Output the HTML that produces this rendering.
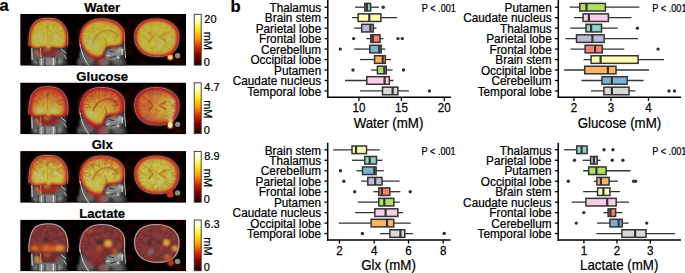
<!DOCTYPE html>
<html><head><meta charset="utf-8"><style>
html,body{margin:0;padding:0;background:#fff;}
svg{display:block;font-family:"Liberation Sans", sans-serif;}
text{stroke:#000;stroke-width:0.22px;}
</style></head><body>
<svg width="685" height="273" viewBox="0 0 685 273">
<defs>
<linearGradient id="hot" x1="0" y1="0" x2="0" y2="1">
<stop offset="0" stop-color="#ffffff"/><stop offset="0.13" stop-color="#ffffb8"/>
<stop offset="0.3" stop-color="#ffe818"/><stop offset="0.48" stop-color="#ff9800"/>
<stop offset="0.64" stop-color="#e02a00"/><stop offset="0.8" stop-color="#880000"/>
<stop offset="1" stop-color="#180000"/></linearGradient>

<clipPath id="strip"><rect x="20.2" y="14" width="165.8" height="51.7"/></clipPath>
<filter id="b04" x="-20%" y="-20%" width="140%" height="140%"><feGaussianBlur stdDeviation="0.4"/></filter>
<filter id="b05" x="-20%" y="-20%" width="140%" height="140%"><feGaussianBlur stdDeviation="0.5"/></filter>
<filter id="b06" x="-20%" y="-20%" width="140%" height="140%"><feGaussianBlur stdDeviation="0.6"/></filter>
<filter id="b08" x="-20%" y="-20%" width="140%" height="140%"><feGaussianBlur stdDeviation="0.8"/></filter>
<filter id="b10" x="-20%" y="-20%" width="140%" height="140%"><feGaussianBlur stdDeviation="1.0"/></filter>
<filter id="b12" x="-30%" y="-30%" width="160%" height="160%"><feGaussianBlur stdDeviation="1.2"/></filter>
<filter id="b15" x="-30%" y="-30%" width="160%" height="160%"><feGaussianBlur stdDeviation="1.5"/></filter>
<filter id="tex1" x="0" y="0" width="100%" height="100%" color-interpolation-filters="sRGB"><feTurbulence type="fractalNoise" baseFrequency="0.22" numOctaves="2" seed="7" result="n"/><feColorMatrix in="n" type="matrix" values="0 0 0 0 0  0 0 0 0 0  0 0 0 0 0  3.2 0 0 0 -1.3" result="a"/><feComposite in="SourceGraphic" in2="a" operator="in" result="c"/><feGaussianBlur in="c" stdDeviation="0.6"/></filter>
<filter id="tex2" x="0" y="0" width="100%" height="100%" color-interpolation-filters="sRGB"><feTurbulence type="fractalNoise" baseFrequency="0.32" numOctaves="2" seed="11" result="n"/><feColorMatrix in="n" type="matrix" values="0 0 0 0 0  0 0 0 0 0  0 0 0 0 0  3.0 0 0 0 -1.1" result="a"/><feComposite in="SourceGraphic" in2="a" operator="in" result="c"/><feGaussianBlur in="c" stdDeviation="0.4"/></filter>
<filter id="texbg" x="0" y="0" width="100%" height="100%" color-interpolation-filters="sRGB"><feTurbulence type="fractalNoise" baseFrequency="0.12" numOctaves="2" seed="3" result="n"/><feColorMatrix in="n" type="matrix" values="0 0 0 0 0  0 0 0 0 0  0 0 0 0 0  2.6 0 0 0 -1.25" result="a"/><feComposite in="SourceGraphic" in2="a" operator="in" result="c"/><feGaussianBlur in="c" stdDeviation="1"/></filter>
<filter id="b25" x="-30%" y="-30%" width="160%" height="160%"><feGaussianBlur stdDeviation="2.5"/></filter>
<radialGradient id="y0cor" cx="0.5" cy="0.6" r="0.64"><stop offset="0" stop-color="#bfba3e" stop-opacity="1"/><stop offset="0.78" stop-color="#bfba3e" stop-opacity="1"/><stop offset="0.94" stop-color="#bfba3e" stop-opacity="0.6"/><stop offset="1" stop-color="#bfba3e" stop-opacity="0.3"/></radialGradient>
<radialGradient id="y0sag" cx="0.45" cy="0.6" r="0.64"><stop offset="0" stop-color="#bfba3e" stop-opacity="1"/><stop offset="0.75" stop-color="#bfba3e" stop-opacity="1"/><stop offset="0.92" stop-color="#bfba3e" stop-opacity="0.6"/><stop offset="1" stop-color="#bfba3e" stop-opacity="0.3"/></radialGradient>
<radialGradient id="y0ax" cx="0.5" cy="0.52" r="0.56"><stop offset="0" stop-color="#bfba3e" stop-opacity="1"/><stop offset="0.8" stop-color="#bfba3e" stop-opacity="1"/><stop offset="1" stop-color="#bfba3e" stop-opacity="0.45"/></radialGradient>
<radialGradient id="y1cor" cx="0.5" cy="0.82" r="0.7"><stop offset="0" stop-color="#c8b43c" stop-opacity="1"/><stop offset="0.4" stop-color="#c8b43c" stop-opacity="0.9"/><stop offset="0.75" stop-color="#c8b43c" stop-opacity="0.3"/><stop offset="1" stop-color="#c8b43c" stop-opacity="0"/></radialGradient>
<radialGradient id="y1sag" cx="0.4" cy="0.72" r="0.7"><stop offset="0" stop-color="#c8b43c" stop-opacity="1"/><stop offset="0.4" stop-color="#c8b43c" stop-opacity="0.9"/><stop offset="0.75" stop-color="#c8b43c" stop-opacity="0.3"/><stop offset="1" stop-color="#c8b43c" stop-opacity="0"/></radialGradient>
<radialGradient id="y1ax" cx="0.85" cy="0.55" r="0.65"><stop offset="0" stop-color="#c8b43c" stop-opacity="1"/><stop offset="0.35" stop-color="#c8b43c" stop-opacity="0.9"/><stop offset="0.7" stop-color="#c8b43c" stop-opacity="0.35"/><stop offset="1" stop-color="#c8b43c" stop-opacity="0.1"/></radialGradient>
<linearGradient id="t10cor" x1="0" y1="0" x2="0" y2="1"><stop offset="0" stop-color="#a02010" stop-opacity="1"/><stop offset="0.5" stop-color="#a02010" stop-opacity="0.8"/><stop offset="0.8" stop-color="#a02010" stop-opacity="0.1"/><stop offset="1" stop-color="#a02010" stop-opacity="0"/></linearGradient>
<linearGradient id="t10sag" x1="0" y1="0" x2="0" y2="1"><stop offset="0" stop-color="#a02010" stop-opacity="1"/><stop offset="0.5" stop-color="#a02010" stop-opacity="0.7"/><stop offset="0.8" stop-color="#a02010" stop-opacity="0.1"/><stop offset="1" stop-color="#a02010" stop-opacity="0"/></linearGradient>
<linearGradient id="t10ax" x1="0" y1="0" x2="1" y2="0"><stop offset="0" stop-color="#a02010" stop-opacity="1"/><stop offset="0.6" stop-color="#a02010" stop-opacity="0.7"/><stop offset="1" stop-color="#a02010" stop-opacity="0.1"/></linearGradient>
<radialGradient id="y2cor" cx="0.5" cy="0.7" r="0.7"><stop offset="0" stop-color="#c6c24a" stop-opacity="1"/><stop offset="0.6" stop-color="#c6c24a" stop-opacity="1"/><stop offset="0.85" stop-color="#c6c24a" stop-opacity="0.45"/><stop offset="1" stop-color="#c6c24a" stop-opacity="0.1"/></radialGradient>
<radialGradient id="y2sag" cx="0.5" cy="0.62" r="0.7"><stop offset="0" stop-color="#c6c24a" stop-opacity="1"/><stop offset="0.6" stop-color="#c6c24a" stop-opacity="1"/><stop offset="0.85" stop-color="#c6c24a" stop-opacity="0.45"/><stop offset="1" stop-color="#c6c24a" stop-opacity="0.1"/></radialGradient>
<radialGradient id="y2ax" cx="0.5" cy="0.5" r="0.62"><stop offset="0" stop-color="#c6c24a" stop-opacity="1"/><stop offset="0.75" stop-color="#c6c24a" stop-opacity="1"/><stop offset="0.92" stop-color="#c6c24a" stop-opacity="0.45"/><stop offset="1" stop-color="#c6c24a" stop-opacity="0.1"/></radialGradient>
<linearGradient id="t20cor" x1="0" y1="0" x2="0" y2="1"><stop offset="0" stop-color="#b03818" stop-opacity="1"/><stop offset="0.5" stop-color="#b03818" stop-opacity="0.6"/><stop offset="1" stop-color="#b03818" stop-opacity="0.2"/></linearGradient>
<linearGradient id="t20sag" x1="0" y1="0" x2="0" y2="1"><stop offset="0" stop-color="#b03818" stop-opacity="1"/><stop offset="0.5" stop-color="#b03818" stop-opacity="0.6"/><stop offset="1" stop-color="#b03818" stop-opacity="0.2"/></linearGradient>
<linearGradient id="t20ax" x1="0" y1="0" x2="0" y2="1"><stop offset="0" stop-color="#b03818" stop-opacity="0.5"/><stop offset="1" stop-color="#b03818" stop-opacity="0.5"/></linearGradient>
<linearGradient id="y3cor" x1="0" y1="0" x2="0" y2="1"><stop offset="0" stop-color="#e0a030" stop-opacity="0"/><stop offset="1" stop-color="#e0a030" stop-opacity="0"/></linearGradient>
<linearGradient id="y3sag" x1="0" y1="0" x2="0" y2="1"><stop offset="0" stop-color="#e0a030" stop-opacity="0"/><stop offset="1" stop-color="#e0a030" stop-opacity="0"/></linearGradient>
<linearGradient id="y3ax" x1="0" y1="0" x2="0" y2="1"><stop offset="0" stop-color="#e0a030" stop-opacity="0"/><stop offset="1" stop-color="#e0a030" stop-opacity="0"/></linearGradient></defs>
<rect width="685" height="273" fill="#fff"/>
<g transform="translate(0,0.0)" clip-path="url(#strip)">
<rect x="20.2" y="14.0" width="165.8" height="51.7" fill="#000"/>
<g filter="url(#texbg)" opacity="0.45"><rect x="20.2" y="14.0" width="165.8" height="51.7" fill="#5a0c08"/></g>
<g filter="url(#b25)" opacity="0.9">
<path d="M29.6,42 C29.8,33 31.5,26 36.5,21.8 C40,19.5 44,19 48.5,19 C54,19 58.5,20.5 61.5,23.5 C65,27 67,32.5 67,40 C67,44 66,47 63.5,47.8 C58,48.5 53,46.5 50.5,47 L49.8,49.5 L47,49.5 L46.3,47 C44,46.5 39,48.3 34,48 C30.5,47.5 29.6,45 29.6,42 Z" fill="#7a1810" transform="translate(48.6,34) scale(1.045) translate(-48.6,-34)"/>
<path d="M80.4,38 C80.4,27 88.5,19.7 101,19.6 C113,19.6 123.5,25 123.8,34 C124,40 123,44 120.5,45 C116,45.5 110,45.5 106.5,46.3 C104.5,49 103.5,53 101.5,56 C99,58.5 94,57.5 90,55 C85,52 81,47 80.4,38 Z" fill="#7a1810" transform="translate(102,37) scale(1.045) translate(-102,-37)"/>
<path d="M135.4,36.5 C135.4,26 143,19.7 156,19.6 C169,19.5 178.2,26 178.2,36.5 C178.2,44 175.5,50 171,53 C166,56 158,56.3 151,55.3 C142,54 135.4,47 135.4,36.5 Z" fill="#7a1810" transform="translate(156.7,37.5) scale(1.045) translate(-156.7,-37.5)"/>
</g>
<g filter="url(#b08)">
<path d="M29.6,42 C29.8,33 31.5,26 36.5,21.8 C40,19.5 44,19 48.5,19 C54,19 58.5,20.5 61.5,23.5 C65,27 67,32.5 67,40 C67,44 66,47 63.5,47.8 C58,48.5 53,46.5 50.5,47 L49.8,49.5 L47,49.5 L46.3,47 C44,46.5 39,48.3 34,48 C30.5,47.5 29.6,45 29.6,42 Z" fill="#303030" transform="translate(48.6,34) scale(1.04) translate(-48.6,-34)"/>
<path d="M80.4,38 C80.4,27 88.5,19.7 101,19.6 C113,19.6 123.5,25 123.8,34 C124,40 123,44 120.5,45 C116,45.5 110,45.5 106.5,46.3 C104.5,49 103.5,53 101.5,56 C99,58.5 94,57.5 90,55 C85,52 81,47 80.4,38 Z" fill="#303030" transform="translate(102,37) scale(1.04) translate(-102,-37)"/>
<path d="M135.4,36.5 C135.4,26 143,19.7 156,19.6 C169,19.5 178.2,26 178.2,36.5 C178.2,44 175.5,50 171,53 C166,56 158,56.3 151,55.3 C142,54 135.4,47 135.4,36.5 Z" fill="#303030" transform="translate(156.7,37.5) scale(1.04) translate(-156.7,-37.5)"/>
<path d="M31.5,47 C40,46 57,46 66.5,47 L67,66 L31,66 Z" fill="#343434"/>
<path d="M81,46 C84,52 92,56 100,56.5 L104,47 C110,46 118,46 124,44 L125.5,58 L127,66 L83,66 C81,60 80,52 81,46 Z" fill="#343434"/>
</g>
<g filter="url(#b10)">
<ellipse cx="48" cy="61.5" rx="15" ry="4.5" fill="#858585"/>
<ellipse cx="36" cy="56" rx="4" ry="6" fill="#606060"/>
<ellipse cx="60" cy="55" rx="5" ry="5" fill="#646464"/>
<ellipse cx="113" cy="54.5" rx="8" ry="6" fill="#858585"/>
<ellipse cx="120" cy="50" rx="3" ry="3" fill="#a8a8a8"/>
<ellipse cx="104" cy="62" rx="5" ry="4" fill="#727272"/>
<ellipse cx="118" cy="62" rx="5" ry="3" fill="#606060"/>
<ellipse cx="88" cy="60" rx="6" ry="5" fill="#686868"/>
<ellipse cx="83" cy="55" rx="3.5" ry="5" fill="#606060"/>
<ellipse cx="80" cy="62" rx="3" ry="4" fill="#555555"/>
</g>
<g filter="url(#b06)" fill="none">
<path d="M38,58 L38,66" stroke="#2a2a2a" stroke-width="1.0"/>
<path d="M45,58.5 L45,66" stroke="#2a2a2a" stroke-width="1.0"/>
<path d="M57,58 L57,66" stroke="#2a2a2a" stroke-width="1.0"/>
<path d="M110,58 L116,56" stroke="#303030" stroke-width="1.0"/>
<path d="M109,51 L114,52" stroke="#303030" stroke-width="1.0"/>
</g>
<g filter="url(#b06)" fill="none" opacity="0.85">
<path d="M40.5,48 L41,57" stroke="#e0e0e0" stroke-width="1.2"/>
<path d="M41.3,58 L41.3,66" stroke="#e0e0e0" stroke-width="1.1"/>
<path d="M53.4,58 L53.4,66" stroke="#e0e0e0" stroke-width="1.3"/>
<path d="M31.8,48 L32.2,60" stroke="#e0e0e0" stroke-width="1.3"/>
<path d="M61,49 L66,53" stroke="#e0e0e0" stroke-width="1.0"/>
<path d="M64,55 L66.5,59" stroke="#e0e0e0" stroke-width="0.9"/>
<path d="M80.3,44 C81,52 84,59 89,66" stroke="#e0e0e0" stroke-width="1.0"/>
<path d="M122.5,49 L122,55" stroke="#e0e0e0" stroke-width="1.6"/>
<path d="M117.5,56.5 L119,58.5" stroke="#e0e0e0" stroke-width="1.5"/>
<path d="M124.5,44 L125.5,58" stroke="#e0e0e0" stroke-width="0.9"/>
<path d="M106,56 L110,55" stroke="#e0e0e0" stroke-width="1.0"/>
</g>
<g filter="url(#b08)">
<path d="M29.6,42 C29.8,33 31.5,26 36.5,21.8 C40,19.5 44,19 48.5,19 C54,19 58.5,20.5 61.5,23.5 C65,27 67,32.5 67,40 C67,44 66,47 63.5,47.8 C58,48.5 53,46.5 50.5,47 L49.8,49.5 L47,49.5 L46.3,47 C44,46.5 39,48.3 34,48 C30.5,47.5 29.6,45 29.6,42 Z" fill="#5a5a5a" transform="translate(48.6,34) scale(0.97) translate(-48.6,-34)"/>
<path d="M80.4,38 C80.4,27 88.5,19.7 101,19.6 C113,19.6 123.5,25 123.8,34 C124,40 123,44 120.5,45 C116,45.5 110,45.5 106.5,46.3 C104.5,49 103.5,53 101.5,56 C99,58.5 94,57.5 90,55 C85,52 81,47 80.4,38 Z" fill="#5a5a5a" transform="translate(102,37) scale(0.97) translate(-102,-37)"/>
<path d="M135.4,36.5 C135.4,26 143,19.7 156,19.6 C169,19.5 178.2,26 178.2,36.5 C178.2,44 175.5,50 171,53 C166,56 158,56.3 151,55.3 C142,54 135.4,47 135.4,36.5 Z" fill="#5a5a5a" transform="translate(156.7,37.5) scale(0.97) translate(-156.7,-37.5)"/>
</g>
<g filter="url(#b05)" fill="none" stroke="#909090" stroke-width="0.9">
</g>
<g filter="url(#b05)"><circle cx="177.6" cy="55.8" r="2.7" fill="#8a8a8a"/></g>
<g filter="url(#b04)" fill="none">
<path d="M28.9,46 C28.9,33 30.7,25.5 35.9,21.1 C39.5,18.7 43.7,18.2 48.5,18.2 C54.3,18.2 59,19.7 62.2,22.9 C65.9,26.6 67.9,32.3 67.9,40 C67.9,43 67.6,45 67.3,46.5" stroke="#c89090" stroke-width="0.8"/>
<path d="M79.7,46 C79.4,27 87.8,19 101,18.9 C114,18.9 124.5,24.5 124.6,36 C124.7,40 124.5,44 124.2,46" stroke="#c89090" stroke-width="0.8"/>
<path d="M135.4,36.5 C135.4,26 143,19.7 156,19.6 C169,19.5 178.2,26 178.2,36.5 C178.2,44 175.5,50 171,53 C166,56 158,56.3 151,55.3 C142,54 135.4,47 135.4,36.5 Z" transform="translate(156.7,37.5) scale(1.035) translate(-156.7,-37.5)" stroke="#c89090" stroke-width="0.7"/>
</g>
<g filter="url(#b12)" opacity="0.6">
<ellipse cx="47.5" cy="52" rx="13" ry="4.5" fill="#cc2a20" opacity="0.85"/>
<path d="M35.5,50 L40,57" stroke="#e88030" stroke-width="1.8"/>
<ellipse cx="47" cy="49" rx="3" ry="2.2" fill="#e88030"/>
<ellipse cx="114" cy="47" rx="2.8" ry="2.5" fill="#e88030"/>
<ellipse cx="110" cy="46" rx="7" ry="2.2" fill="#cc2a20"/>
<path d="M97,52 L105.5,46.5 L105,66 L95.5,66 Z" fill="#cc2a20" opacity="0.6"/>
<ellipse cx="93" cy="57" rx="6" ry="3.5" fill="#cc2a20" opacity="0.7"/>
</g>
<g filter="url(#b06)" opacity="1">
<path d="M29.6,42 C29.8,33 31.5,26 36.5,21.8 C40,19.5 44,19 48.5,19 C54,19 58.5,20.5 61.5,23.5 C65,27 67,32.5 67,40 C67,44 66,47 63.5,47.8 C58,48.5 53,46.5 50.5,47 L49.8,49.5 L47,49.5 L46.3,47 C44,46.5 39,48.3 34,48 C30.5,47.5 29.6,45 29.6,42 Z" fill="#cc2a20" transform="translate(48.6,34) scale(1.015) translate(-48.6,-34)"/>
<path d="M80.4,38 C80.4,27 88.5,19.7 101,19.6 C113,19.6 123.5,25 123.8,34 C124,40 123,44 120.5,45 C116,45.5 110,45.5 106.5,46.3 C104.5,49 103.5,53 101.5,56 C99,58.5 94,57.5 90,55 C85,52 81,47 80.4,38 Z" fill="#cc2a20" transform="translate(102,37) scale(1.015) translate(-102,-37)"/>
<path d="M135.4,36.5 C135.4,26 143,19.7 156,19.6 C169,19.5 178.2,26 178.2,36.5 C178.2,44 175.5,50 171,53 C166,56 158,56.3 151,55.3 C142,54 135.4,47 135.4,36.5 Z" fill="#cc2a20" transform="translate(156.7,37.5) scale(1.015) translate(-156.7,-37.5)"/>
<circle cx="170.2" cy="57.2" r="3.4" fill="#cc2a20"/>
<path d="M167,51 L173,51 L172.5,56 L167.8,56 Z" fill="#cc2a20"/>
</g>
<g filter="url(#b08)" opacity="1">
<path d="M29.6,42 C29.8,33 31.5,26 36.5,21.8 C40,19.5 44,19 48.5,19 C54,19 58.5,20.5 61.5,23.5 C65,27 67,32.5 67,40 C67,44 66,47 63.5,47.8 C58,48.5 53,46.5 50.5,47 L49.8,49.5 L47,49.5 L46.3,47 C44,46.5 39,48.3 34,48 C30.5,47.5 29.6,45 29.6,42 Z" fill="#d08a30" transform="translate(48.6,34) scale(0.88) translate(-48.6,-34)"/>
<path d="M80.4,38 C80.4,27 88.5,19.7 101,19.6 C113,19.6 123.5,25 123.8,34 C124,40 123,44 120.5,45 C116,45.5 110,45.5 106.5,46.3 C104.5,49 103.5,53 101.5,56 C99,58.5 94,57.5 90,55 C85,52 81,47 80.4,38 Z" fill="#d08a30" transform="translate(102,37) scale(0.88) translate(-102,-37)"/>
<path d="M135.4,36.5 C135.4,26 143,19.7 156,19.6 C169,19.5 178.2,26 178.2,36.5 C178.2,44 175.5,50 171,53 C166,56 158,56.3 151,55.3 C142,54 135.4,47 135.4,36.5 Z" fill="#d08a30" transform="translate(156.7,37.5) scale(0.88) translate(-156.7,-37.5)"/>
</g>
<g filter="url(#b12)">
<path d="M29.6,42 C29.8,33 31.5,26 36.5,21.8 C40,19.5 44,19 48.5,19 C54,19 58.5,20.5 61.5,23.5 C65,27 67,32.5 67,40 C67,44 66,47 63.5,47.8 C58,48.5 53,46.5 50.5,47 L49.8,49.5 L47,49.5 L46.3,47 C44,46.5 39,48.3 34,48 C30.5,47.5 29.6,45 29.6,42 Z" fill="url(#y0cor)" transform="translate(48.6,34) scale(0.9) translate(-48.6,-34)"/>
<path d="M80.4,38 C80.4,27 88.5,19.7 101,19.6 C113,19.6 123.5,25 123.8,34 C124,40 123,44 120.5,45 C116,45.5 110,45.5 106.5,46.3 C104.5,49 103.5,53 101.5,56 C99,58.5 94,57.5 90,55 C85,52 81,47 80.4,38 Z" fill="url(#y0sag)" transform="translate(102,37) scale(0.9) translate(-102,-37)"/>
<path d="M135.4,36.5 C135.4,26 143,19.7 156,19.6 C169,19.5 178.2,26 178.2,36.5 C178.2,44 175.5,50 171,53 C166,56 158,56.3 151,55.3 C142,54 135.4,47 135.4,36.5 Z" fill="url(#y0ax)" transform="translate(156.7,37.5) scale(0.9) translate(-156.7,-37.5)"/>
</g>
<ellipse cx="170.2" cy="57.2" rx="2.3" ry="2.3" fill="#e8e080" opacity="1" filter="url(#b06)"/>
<g filter="url(#tex1)" opacity="0.3">
<path d="M29.6,42 C29.8,33 31.5,26 36.5,21.8 C40,19.5 44,19 48.5,19 C54,19 58.5,20.5 61.5,23.5 C65,27 67,32.5 67,40 C67,44 66,47 63.5,47.8 C58,48.5 53,46.5 50.5,47 L49.8,49.5 L47,49.5 L46.3,47 C44,46.5 39,48.3 34,48 C30.5,47.5 29.6,45 29.6,42 Z" fill="#c87828" transform="translate(48.6,34) scale(0.93) translate(-48.6,-34)"/>
<path d="M80.4,38 C80.4,27 88.5,19.7 101,19.6 C113,19.6 123.5,25 123.8,34 C124,40 123,44 120.5,45 C116,45.5 110,45.5 106.5,46.3 C104.5,49 103.5,53 101.5,56 C99,58.5 94,57.5 90,55 C85,52 81,47 80.4,38 Z" fill="#c87828" transform="translate(102,37) scale(0.93) translate(-102,-37)"/>
<path d="M135.4,36.5 C135.4,26 143,19.7 156,19.6 C169,19.5 178.2,26 178.2,36.5 C178.2,44 175.5,50 171,53 C166,56 158,56.3 151,55.3 C142,54 135.4,47 135.4,36.5 Z" fill="#c87828" transform="translate(156.7,37.5) scale(0.93) translate(-156.7,-37.5)"/>
</g>
<g filter="url(#b06)" fill="none" stroke="#c06a20" stroke-width="0.9" opacity="0.3">
<path d="M38.8,35.0 Q35.8,32.7 32.4,34.4"/>
<path d="M38.8,33.0 Q36.4,32.3 34.1,31.5"/>
<path d="M40.4,31.3 Q36.5,31.2 34.5,28.0"/>
<path d="M42.0,31.0 Q39.3,28.5 36.1,26.6"/>
<path d="M42.8,30.2 Q41.7,26.3 37.8,25.3"/>
<path d="M44.9,29.0 Q41.4,26.5 41.4,22.2"/>
<path d="M46.3,28.6 Q47.0,24.9 44.4,22.2"/>
<path d="M47.4,28.1 Q48.8,24.0 46.3,20.5"/>
<path d="M49.3,26.2 Q50.2,23.6 49.7,21.0"/>
<path d="M51.2,26.6 Q53.7,24.4 52.7,21.2"/>
<path d="M53.1,29.0 Q53.6,25.3 56.8,23.3"/>
<path d="M53.4,29.9 Q56.1,27.4 58.0,24.2"/>
<path d="M55.7,29.8 Q57.4,27.3 60.1,25.9"/>
<path d="M56.9,32.3 Q59.8,31.0 62.8,29.7"/>
<path d="M56.4,34.1 Q59.8,30.3 64.6,32.0"/>
<path d="M58.7,35.5 Q61.3,36.4 63.8,35.2"/>
<path d="M90.7,38.2 Q87.3,40.4 83.7,38.3"/>
<path d="M89.7,36.6 Q86.7,35.1 83.6,35.8"/>
<path d="M90.6,33.8 Q87.4,33.4 84.7,31.7"/>
<path d="M91.7,32.9 Q89.4,30.5 86.0,30.1"/>
<path d="M93.0,31.0 Q91.8,27.8 88.4,27.5"/>
<path d="M94.8,31.4 Q93.5,26.9 88.9,25.9"/>
<path d="M95.6,28.9 Q93.2,26.9 92.1,23.9"/>
<path d="M98.4,30.0 Q95.2,27.4 95.3,23.3"/>
<path d="M100.1,27.3 Q98.1,25.1 99.2,22.3"/>
<path d="M102.7,28.5 Q101.7,25.0 103.1,21.8"/>
<path d="M104.2,27.8 Q104.6,24.8 105.5,22.0"/>
<path d="M105.6,27.9 Q106.4,25.4 107.3,23.0"/>
<path d="M107.3,30.9 Q112.1,29.0 112.4,23.9"/>
<path d="M109.8,30.3 Q111.8,28.0 114.1,26.0"/>
<path d="M110.9,31.0 Q113.3,28.9 115.8,27.1"/>
<path d="M112.9,33.4 Q116.2,31.6 119.8,30.4"/>
<path d="M113.0,34.5 Q116.2,32.5 119.9,32.4"/>
<path d="M111.7,36.4 Q116.6,38.7 120.6,35.0"/>
<path d="M171.7,38.4 Q173.7,37.9 175.8,38.6"/>
<path d="M170.4,39.3 Q173.0,41.5 176.1,40.0"/>
<path d="M170.9,42.7 Q172.5,44.0 174.6,44.0"/>
<path d="M168.7,45.5 Q169.8,46.9 171.4,47.3"/>
<path d="M166.5,46.5 Q167.6,48.6 169.9,49.6"/>
<path d="M164.6,49.1 Q165.3,50.4 166.3,51.5"/>
<path d="M161.7,49.1 Q161.9,50.8 163.0,52.2"/>
<path d="M157.6,50.5 Q156.9,52.1 157.9,53.6"/>
<path d="M154.6,49.9 Q153.2,51.6 154.0,53.6"/>
<path d="M151.2,49.7 Q150.0,51.1 149.8,52.9"/>
<path d="M146.8,48.0 Q145.8,49.0 144.8,50.0"/>
<path d="M145.9,46.9 Q144.5,48.3 143.0,49.5"/>
<path d="M143.4,43.7 Q142.1,45.7 139.7,45.5"/>
<path d="M142.4,40.9 Q140.3,41.8 138.1,42.0"/>
<path d="M141.3,38.7 Q139.3,38.0 137.4,38.9"/>
<path d="M143.2,37.1 Q140.5,36.3 137.7,36.9"/>
<path d="M142.1,34.0 Q139.7,35.1 138.1,33.0"/>
<path d="M144.9,31.6 Q142.3,32.0 140.9,29.7"/>
<path d="M146.6,29.9 Q143.6,30.1 142.9,27.2"/>
<path d="M148.7,27.7 Q147.5,25.7 145.8,24.2"/>
<path d="M150.2,25.4 Q149.6,24.6 149.3,23.6"/>
<path d="M153.9,25.8 Q154.5,23.9 153.1,22.4"/>
<path d="M157.2,26.6 Q155.4,23.9 157.4,21.4"/>
<path d="M160.6,26.2 Q163.0,24.7 162.0,22.1"/>
<path d="M164.0,27.2 Q165.9,25.7 166.7,23.4"/>
<path d="M165.2,28.8 Q167.3,27.1 168.9,25.1"/>
<path d="M170.1,30.2 Q171.3,29.1 172.8,28.7"/>
<path d="M168.8,33.5 Q171.4,33.0 173.9,31.9"/>
<path d="M169.9,35.3 Q173.1,36.8 175.6,34.3"/>
<path d="M171.1,37.3 Q173.2,36.4 175.3,37.2"/>
</g>
<g filter="url(#b06)" fill="none" stroke="#c07a30" opacity="0.6">
<path d="M48,22 L47.6,42" stroke-width="0.8"/>
<path d="M93,43 C95,34 103,29.5 110,30.5 C115,31.5 117,34 117.5,37.5" stroke-width="2.2"/>
<path d="M104,38 C106,40 107,44 106,46" stroke-width="1.2"/>
<path d="M148,31.5 L152.8,37 L148.2,42.5" stroke-width="2.4"/>
<path d="M166,33 L159.5,37 L166,41" stroke-width="2.2"/>
</g>
<g filter="url(#b15)" opacity="0.8" fill="#b8b88a">
<circle cx="39.5" cy="38" r="3.5"/>
<circle cx="56.5" cy="37.5" r="3"/>
<circle cx="89.5" cy="42" r="3"/>
<circle cx="96" cy="47" r="2.5"/>
<circle cx="171" cy="40" r="2.5"/>
<circle cx="159.5" cy="44.5" r="2.5"/>
</g>
</g>
<g transform="translate(0,68.55)" clip-path="url(#strip)">
<rect x="20.2" y="14.0" width="165.8" height="51.7" fill="#000"/>
<g filter="url(#texbg)" opacity="0.45"><rect x="20.2" y="14.0" width="165.8" height="51.7" fill="#5a0c08"/></g>
<g filter="url(#b25)" opacity="0.9">
<path d="M29.6,42 C29.8,33 31.5,26 36.5,21.8 C40,19.5 44,19 48.5,19 C54,19 58.5,20.5 61.5,23.5 C65,27 67,32.5 67,40 C67,44 66,47 63.5,47.8 C58,48.5 53,46.5 50.5,47 L49.8,49.5 L47,49.5 L46.3,47 C44,46.5 39,48.3 34,48 C30.5,47.5 29.6,45 29.6,42 Z" fill="#801818" transform="translate(48.6,34) scale(1.05) translate(-48.6,-34)"/>
<path d="M80.4,38 C80.4,27 88.5,19.7 101,19.6 C113,19.6 123.5,25 123.8,34 C124,40 123,44 120.5,45 C116,45.5 110,45.5 106.5,46.3 C104.5,49 103.5,53 101.5,56 C99,58.5 94,57.5 90,55 C85,52 81,47 80.4,38 Z" fill="#801818" transform="translate(102,37) scale(1.05) translate(-102,-37)"/>
<path d="M135.4,36.5 C135.4,26 143,19.7 156,19.6 C169,19.5 178.2,26 178.2,36.5 C178.2,44 175.5,50 171,53 C166,56 158,56.3 151,55.3 C142,54 135.4,47 135.4,36.5 Z" fill="#801818" transform="translate(156.7,37.5) scale(1.05) translate(-156.7,-37.5)"/>
</g>
<g filter="url(#b08)">
<path d="M29.6,42 C29.8,33 31.5,26 36.5,21.8 C40,19.5 44,19 48.5,19 C54,19 58.5,20.5 61.5,23.5 C65,27 67,32.5 67,40 C67,44 66,47 63.5,47.8 C58,48.5 53,46.5 50.5,47 L49.8,49.5 L47,49.5 L46.3,47 C44,46.5 39,48.3 34,48 C30.5,47.5 29.6,45 29.6,42 Z" fill="#303030" transform="translate(48.6,34) scale(1.04) translate(-48.6,-34)"/>
<path d="M80.4,38 C80.4,27 88.5,19.7 101,19.6 C113,19.6 123.5,25 123.8,34 C124,40 123,44 120.5,45 C116,45.5 110,45.5 106.5,46.3 C104.5,49 103.5,53 101.5,56 C99,58.5 94,57.5 90,55 C85,52 81,47 80.4,38 Z" fill="#303030" transform="translate(102,37) scale(1.04) translate(-102,-37)"/>
<path d="M135.4,36.5 C135.4,26 143,19.7 156,19.6 C169,19.5 178.2,26 178.2,36.5 C178.2,44 175.5,50 171,53 C166,56 158,56.3 151,55.3 C142,54 135.4,47 135.4,36.5 Z" fill="#303030" transform="translate(156.7,37.5) scale(1.04) translate(-156.7,-37.5)"/>
<path d="M31.5,47 C40,46 57,46 66.5,47 L67,66 L31,66 Z" fill="#343434"/>
<path d="M81,46 C84,52 92,56 100,56.5 L104,47 C110,46 118,46 124,44 L125.5,58 L127,66 L83,66 C81,60 80,52 81,46 Z" fill="#343434"/>
</g>
<g filter="url(#b10)">
<ellipse cx="48" cy="61.5" rx="15" ry="4.5" fill="#858585"/>
<ellipse cx="36" cy="56" rx="4" ry="6" fill="#606060"/>
<ellipse cx="60" cy="55" rx="5" ry="5" fill="#646464"/>
<ellipse cx="113" cy="54.5" rx="8" ry="6" fill="#858585"/>
<ellipse cx="120" cy="50" rx="3" ry="3" fill="#a8a8a8"/>
<ellipse cx="104" cy="62" rx="5" ry="4" fill="#727272"/>
<ellipse cx="118" cy="62" rx="5" ry="3" fill="#606060"/>
<ellipse cx="88" cy="60" rx="6" ry="5" fill="#686868"/>
<ellipse cx="83" cy="55" rx="3.5" ry="5" fill="#606060"/>
<ellipse cx="80" cy="62" rx="3" ry="4" fill="#555555"/>
</g>
<g filter="url(#b06)" fill="none">
<path d="M38,58 L38,66" stroke="#2a2a2a" stroke-width="1.0"/>
<path d="M45,58.5 L45,66" stroke="#2a2a2a" stroke-width="1.0"/>
<path d="M57,58 L57,66" stroke="#2a2a2a" stroke-width="1.0"/>
<path d="M110,58 L116,56" stroke="#303030" stroke-width="1.0"/>
<path d="M109,51 L114,52" stroke="#303030" stroke-width="1.0"/>
</g>
<g filter="url(#b06)" fill="none" opacity="0.85">
<path d="M40.5,48 L41,57" stroke="#e0e0e0" stroke-width="1.2"/>
<path d="M41.3,58 L41.3,66" stroke="#e0e0e0" stroke-width="1.1"/>
<path d="M53.4,58 L53.4,66" stroke="#e0e0e0" stroke-width="1.3"/>
<path d="M31.8,48 L32.2,60" stroke="#e0e0e0" stroke-width="1.3"/>
<path d="M61,49 L66,53" stroke="#e0e0e0" stroke-width="1.0"/>
<path d="M64,55 L66.5,59" stroke="#e0e0e0" stroke-width="0.9"/>
<path d="M80.3,44 C81,52 84,59 89,66" stroke="#e0e0e0" stroke-width="1.0"/>
<path d="M122.5,49 L122,55" stroke="#e0e0e0" stroke-width="1.6"/>
<path d="M117.5,56.5 L119,58.5" stroke="#e0e0e0" stroke-width="1.5"/>
<path d="M124.5,44 L125.5,58" stroke="#e0e0e0" stroke-width="0.9"/>
<path d="M106,56 L110,55" stroke="#e0e0e0" stroke-width="1.0"/>
</g>
<g filter="url(#b08)">
<path d="M29.6,42 C29.8,33 31.5,26 36.5,21.8 C40,19.5 44,19 48.5,19 C54,19 58.5,20.5 61.5,23.5 C65,27 67,32.5 67,40 C67,44 66,47 63.5,47.8 C58,48.5 53,46.5 50.5,47 L49.8,49.5 L47,49.5 L46.3,47 C44,46.5 39,48.3 34,48 C30.5,47.5 29.6,45 29.6,42 Z" fill="#5a5a5a" transform="translate(48.6,34) scale(0.97) translate(-48.6,-34)"/>
<path d="M80.4,38 C80.4,27 88.5,19.7 101,19.6 C113,19.6 123.5,25 123.8,34 C124,40 123,44 120.5,45 C116,45.5 110,45.5 106.5,46.3 C104.5,49 103.5,53 101.5,56 C99,58.5 94,57.5 90,55 C85,52 81,47 80.4,38 Z" fill="#5a5a5a" transform="translate(102,37) scale(0.97) translate(-102,-37)"/>
<path d="M135.4,36.5 C135.4,26 143,19.7 156,19.6 C169,19.5 178.2,26 178.2,36.5 C178.2,44 175.5,50 171,53 C166,56 158,56.3 151,55.3 C142,54 135.4,47 135.4,36.5 Z" fill="#5a5a5a" transform="translate(156.7,37.5) scale(0.97) translate(-156.7,-37.5)"/>
</g>
<g filter="url(#b05)" fill="none" stroke="#909090" stroke-width="0.9">
</g>
<g filter="url(#b05)"><circle cx="177.6" cy="55.8" r="2.7" fill="#8a8a8a"/></g>
<g filter="url(#b04)" fill="none">
<path d="M28.9,46 C28.9,33 30.7,25.5 35.9,21.1 C39.5,18.7 43.7,18.2 48.5,18.2 C54.3,18.2 59,19.7 62.2,22.9 C65.9,26.6 67.9,32.3 67.9,40 C67.9,43 67.6,45 67.3,46.5" stroke="#c89090" stroke-width="0.8"/>
<path d="M79.7,46 C79.4,27 87.8,19 101,18.9 C114,18.9 124.5,24.5 124.6,36 C124.7,40 124.5,44 124.2,46" stroke="#c89090" stroke-width="0.8"/>
<path d="M135.4,36.5 C135.4,26 143,19.7 156,19.6 C169,19.5 178.2,26 178.2,36.5 C178.2,44 175.5,50 171,53 C166,56 158,56.3 151,55.3 C142,54 135.4,47 135.4,36.5 Z" transform="translate(156.7,37.5) scale(1.035) translate(-156.7,-37.5)" stroke="#c89090" stroke-width="0.7"/>
</g>
<g filter="url(#b12)" opacity="0.8">
<ellipse cx="47.5" cy="52" rx="13" ry="4.5" fill="#b82028" opacity="0.85"/>
<path d="M35.5,50 L40,57" stroke="#e88030" stroke-width="1.8"/>
<ellipse cx="47" cy="49" rx="3" ry="2.2" fill="#e88030"/>
<ellipse cx="114" cy="47" rx="2.8" ry="2.5" fill="#e88030"/>
<ellipse cx="110" cy="46" rx="7" ry="2.2" fill="#b82028"/>
<path d="M97,52 L105.5,46.5 L105,66 L95.5,66 Z" fill="#b82028" opacity="0.6"/>
<ellipse cx="93" cy="57" rx="6" ry="3.5" fill="#b82028" opacity="0.7"/>
</g>
<g filter="url(#b06)" opacity="1">
<path d="M29.6,42 C29.8,33 31.5,26 36.5,21.8 C40,19.5 44,19 48.5,19 C54,19 58.5,20.5 61.5,23.5 C65,27 67,32.5 67,40 C67,44 66,47 63.5,47.8 C58,48.5 53,46.5 50.5,47 L49.8,49.5 L47,49.5 L46.3,47 C44,46.5 39,48.3 34,48 C30.5,47.5 29.6,45 29.6,42 Z" fill="#b82028" transform="translate(48.6,34) scale(1.015) translate(-48.6,-34)"/>
<path d="M80.4,38 C80.4,27 88.5,19.7 101,19.6 C113,19.6 123.5,25 123.8,34 C124,40 123,44 120.5,45 C116,45.5 110,45.5 106.5,46.3 C104.5,49 103.5,53 101.5,56 C99,58.5 94,57.5 90,55 C85,52 81,47 80.4,38 Z" fill="#b82028" transform="translate(102,37) scale(1.015) translate(-102,-37)"/>
<path d="M135.4,36.5 C135.4,26 143,19.7 156,19.6 C169,19.5 178.2,26 178.2,36.5 C178.2,44 175.5,50 171,53 C166,56 158,56.3 151,55.3 C142,54 135.4,47 135.4,36.5 Z" fill="#b82028" transform="translate(156.7,37.5) scale(1.015) translate(-156.7,-37.5)"/>
<circle cx="170.2" cy="57.2" r="3.4" fill="#b82028"/>
<path d="M167,51 L173,51 L172.5,56 L167.8,56 Z" fill="#b82028"/>
</g>
<g filter="url(#b08)" opacity="1">
<path d="M29.6,42 C29.8,33 31.5,26 36.5,21.8 C40,19.5 44,19 48.5,19 C54,19 58.5,20.5 61.5,23.5 C65,27 67,32.5 67,40 C67,44 66,47 63.5,47.8 C58,48.5 53,46.5 50.5,47 L49.8,49.5 L47,49.5 L46.3,47 C44,46.5 39,48.3 34,48 C30.5,47.5 29.6,45 29.6,42 Z" fill="#cc6834" transform="translate(48.6,34) scale(0.86) translate(-48.6,-34)"/>
<path d="M80.4,38 C80.4,27 88.5,19.7 101,19.6 C113,19.6 123.5,25 123.8,34 C124,40 123,44 120.5,45 C116,45.5 110,45.5 106.5,46.3 C104.5,49 103.5,53 101.5,56 C99,58.5 94,57.5 90,55 C85,52 81,47 80.4,38 Z" fill="#cc6834" transform="translate(102,37) scale(0.86) translate(-102,-37)"/>
<path d="M135.4,36.5 C135.4,26 143,19.7 156,19.6 C169,19.5 178.2,26 178.2,36.5 C178.2,44 175.5,50 171,53 C166,56 158,56.3 151,55.3 C142,54 135.4,47 135.4,36.5 Z" fill="#cc6834" transform="translate(156.7,37.5) scale(0.86) translate(-156.7,-37.5)"/>
</g>
<g filter="url(#b12)">
<path d="M29.6,42 C29.8,33 31.5,26 36.5,21.8 C40,19.5 44,19 48.5,19 C54,19 58.5,20.5 61.5,23.5 C65,27 67,32.5 67,40 C67,44 66,47 63.5,47.8 C58,48.5 53,46.5 50.5,47 L49.8,49.5 L47,49.5 L46.3,47 C44,46.5 39,48.3 34,48 C30.5,47.5 29.6,45 29.6,42 Z" fill="url(#y1cor)" transform="translate(48.6,34) scale(0.86) translate(-48.6,-34)"/>
<path d="M80.4,38 C80.4,27 88.5,19.7 101,19.6 C113,19.6 123.5,25 123.8,34 C124,40 123,44 120.5,45 C116,45.5 110,45.5 106.5,46.3 C104.5,49 103.5,53 101.5,56 C99,58.5 94,57.5 90,55 C85,52 81,47 80.4,38 Z" fill="url(#y1sag)" transform="translate(102,37) scale(0.86) translate(-102,-37)"/>
<path d="M135.4,36.5 C135.4,26 143,19.7 156,19.6 C169,19.5 178.2,26 178.2,36.5 C178.2,44 175.5,50 171,53 C166,56 158,56.3 151,55.3 C142,54 135.4,47 135.4,36.5 Z" fill="url(#y1ax)" transform="translate(156.7,37.5) scale(0.86) translate(-156.7,-37.5)"/>
</g>
<ellipse cx="170.2" cy="56.5" rx="2.3" ry="3.0" fill="#f0eea0" opacity="1" filter="url(#b06)"/>
<g filter="url(#tex1)" opacity="0.22">
<path d="M29.6,42 C29.8,33 31.5,26 36.5,21.8 C40,19.5 44,19 48.5,19 C54,19 58.5,20.5 61.5,23.5 C65,27 67,32.5 67,40 C67,44 66,47 63.5,47.8 C58,48.5 53,46.5 50.5,47 L49.8,49.5 L47,49.5 L46.3,47 C44,46.5 39,48.3 34,48 C30.5,47.5 29.6,45 29.6,42 Z" fill="url(#t10cor)" transform="translate(48.6,34) scale(0.97) translate(-48.6,-34)"/>
<path d="M80.4,38 C80.4,27 88.5,19.7 101,19.6 C113,19.6 123.5,25 123.8,34 C124,40 123,44 120.5,45 C116,45.5 110,45.5 106.5,46.3 C104.5,49 103.5,53 101.5,56 C99,58.5 94,57.5 90,55 C85,52 81,47 80.4,38 Z" fill="url(#t10sag)" transform="translate(102,37) scale(0.97) translate(-102,-37)"/>
<path d="M135.4,36.5 C135.4,26 143,19.7 156,19.6 C169,19.5 178.2,26 178.2,36.5 C178.2,44 175.5,50 171,53 C166,56 158,56.3 151,55.3 C142,54 135.4,47 135.4,36.5 Z" fill="url(#t10ax)" transform="translate(156.7,37.5) scale(0.97) translate(-156.7,-37.5)"/>
</g>
<g filter="url(#b06)" fill="none" stroke="#a02810" stroke-width="0.9" opacity="0.45">
<path d="M38.8,35.0 Q35.8,32.7 32.4,34.4"/>
<path d="M38.8,33.0 Q36.4,32.3 34.1,31.5"/>
<path d="M40.4,31.3 Q36.5,31.2 34.5,28.0"/>
<path d="M42.0,31.0 Q39.3,28.5 36.1,26.6"/>
<path d="M42.8,30.2 Q41.7,26.3 37.8,25.3"/>
<path d="M44.9,29.0 Q41.4,26.5 41.4,22.2"/>
<path d="M46.3,28.6 Q47.0,24.9 44.4,22.2"/>
<path d="M47.4,28.1 Q48.8,24.0 46.3,20.5"/>
<path d="M49.3,26.2 Q50.2,23.6 49.7,21.0"/>
<path d="M51.2,26.6 Q53.7,24.4 52.7,21.2"/>
<path d="M53.1,29.0 Q53.6,25.3 56.8,23.3"/>
<path d="M53.4,29.9 Q56.1,27.4 58.0,24.2"/>
<path d="M55.7,29.8 Q57.4,27.3 60.1,25.9"/>
<path d="M56.9,32.3 Q59.8,31.0 62.8,29.7"/>
<path d="M56.4,34.1 Q59.8,30.3 64.6,32.0"/>
<path d="M58.7,35.5 Q61.3,36.4 63.8,35.2"/>
<path d="M90.7,38.2 Q87.3,40.4 83.7,38.3"/>
<path d="M89.7,36.6 Q86.7,35.1 83.6,35.8"/>
<path d="M90.6,33.8 Q87.4,33.4 84.7,31.7"/>
<path d="M91.7,32.9 Q89.4,30.5 86.0,30.1"/>
<path d="M93.0,31.0 Q91.8,27.8 88.4,27.5"/>
<path d="M94.8,31.4 Q93.5,26.9 88.9,25.9"/>
<path d="M95.6,28.9 Q93.2,26.9 92.1,23.9"/>
<path d="M98.4,30.0 Q95.2,27.4 95.3,23.3"/>
<path d="M100.1,27.3 Q98.1,25.1 99.2,22.3"/>
<path d="M102.7,28.5 Q101.7,25.0 103.1,21.8"/>
<path d="M104.2,27.8 Q104.6,24.8 105.5,22.0"/>
<path d="M105.6,27.9 Q106.4,25.4 107.3,23.0"/>
<path d="M107.3,30.9 Q112.1,29.0 112.4,23.9"/>
<path d="M109.8,30.3 Q111.8,28.0 114.1,26.0"/>
<path d="M110.9,31.0 Q113.3,28.9 115.8,27.1"/>
<path d="M112.9,33.4 Q116.2,31.6 119.8,30.4"/>
<path d="M113.0,34.5 Q116.2,32.5 119.9,32.4"/>
<path d="M111.7,36.4 Q116.6,38.7 120.6,35.0"/>
<path d="M171.7,38.4 Q173.7,37.9 175.8,38.6"/>
<path d="M170.4,39.3 Q173.0,41.5 176.1,40.0"/>
<path d="M170.9,42.7 Q172.5,44.0 174.6,44.0"/>
<path d="M168.7,45.5 Q169.8,46.9 171.4,47.3"/>
<path d="M166.5,46.5 Q167.6,48.6 169.9,49.6"/>
<path d="M164.6,49.1 Q165.3,50.4 166.3,51.5"/>
<path d="M161.7,49.1 Q161.9,50.8 163.0,52.2"/>
<path d="M157.6,50.5 Q156.9,52.1 157.9,53.6"/>
<path d="M154.6,49.9 Q153.2,51.6 154.0,53.6"/>
<path d="M151.2,49.7 Q150.0,51.1 149.8,52.9"/>
<path d="M146.8,48.0 Q145.8,49.0 144.8,50.0"/>
<path d="M145.9,46.9 Q144.5,48.3 143.0,49.5"/>
<path d="M143.4,43.7 Q142.1,45.7 139.7,45.5"/>
<path d="M142.4,40.9 Q140.3,41.8 138.1,42.0"/>
<path d="M141.3,38.7 Q139.3,38.0 137.4,38.9"/>
<path d="M143.2,37.1 Q140.5,36.3 137.7,36.9"/>
<path d="M142.1,34.0 Q139.7,35.1 138.1,33.0"/>
<path d="M144.9,31.6 Q142.3,32.0 140.9,29.7"/>
<path d="M146.6,29.9 Q143.6,30.1 142.9,27.2"/>
<path d="M148.7,27.7 Q147.5,25.7 145.8,24.2"/>
<path d="M150.2,25.4 Q149.6,24.6 149.3,23.6"/>
<path d="M153.9,25.8 Q154.5,23.9 153.1,22.4"/>
<path d="M157.2,26.6 Q155.4,23.9 157.4,21.4"/>
<path d="M160.6,26.2 Q163.0,24.7 162.0,22.1"/>
<path d="M164.0,27.2 Q165.9,25.7 166.7,23.4"/>
<path d="M165.2,28.8 Q167.3,27.1 168.9,25.1"/>
<path d="M170.1,30.2 Q171.3,29.1 172.8,28.7"/>
<path d="M168.8,33.5 Q171.4,33.0 173.9,31.9"/>
<path d="M169.9,35.3 Q173.1,36.8 175.6,34.3"/>
<path d="M171.1,37.3 Q173.2,36.4 175.3,37.2"/>
</g>
<g filter="url(#b06)" fill="none" stroke="#a03018" opacity="0.5">
<path d="M48,22 L47.6,42" stroke-width="0.8"/>
<path d="M93,43 C95,34 103,29.5 110,30.5 C115,31.5 117,34 117.5,37.5" stroke-width="2.2"/>
<path d="M104,38 C106,40 107,44 106,46" stroke-width="1.2"/>
<path d="M148,31.5 L152.8,37 L148.2,42.5" stroke-width="2.4"/>
<path d="M166,33 L159.5,37 L166,41" stroke-width="2.2"/>
</g>
<g filter="url(#b15)" opacity="0.8" fill="#c0c088">
<circle cx="39.5" cy="42" r="3"/>
<circle cx="54" cy="42" r="3"/>
<circle cx="89.5" cy="44" r="3"/>
<circle cx="94" cy="47" r="2.5"/>
<circle cx="172" cy="42" r="2.5"/>
<circle cx="171" cy="48" r="2.5"/>
<circle cx="172" cy="33" r="2.5"/>
</g>
<ellipse cx="150" cy="25.5" rx="2.5" ry="2" fill="#806070" opacity="0.7" filter="url(#b08)"/>
<ellipse cx="158.5" cy="24.5" rx="2.5" ry="2" fill="#806070" opacity="0.6" filter="url(#b08)"/>
<ellipse cx="147" cy="48.5" rx="2.8" ry="2.2" fill="#806070" opacity="0.7" filter="url(#b08)"/>
<ellipse cx="170.5" cy="52.5" rx="2.2" ry="3" fill="#e8e070" opacity="0.9" filter="url(#b08)"/>
<ellipse cx="156" cy="37" rx="4" ry="2" fill="#e0a040" opacity="0.5" filter="url(#b10)"/>
</g>
<g transform="translate(0,137.1)" clip-path="url(#strip)">
<rect x="20.2" y="14.0" width="165.8" height="51.7" fill="#000"/>
<g filter="url(#texbg)" opacity="0.45"><rect x="20.2" y="14.0" width="165.8" height="51.7" fill="#5a0c08"/></g>
<g filter="url(#b25)" opacity="0.9">
<path d="M29.6,42 C29.8,33 31.5,26 36.5,21.8 C40,19.5 44,19 48.5,19 C54,19 58.5,20.5 61.5,23.5 C65,27 67,32.5 67,40 C67,44 66,47 63.5,47.8 C58,48.5 53,46.5 50.5,47 L49.8,49.5 L47,49.5 L46.3,47 C44,46.5 39,48.3 34,48 C30.5,47.5 29.6,45 29.6,42 Z" fill="#7a1410" transform="translate(48.6,34) scale(1.05) translate(-48.6,-34)"/>
<path d="M80.4,38 C80.4,27 88.5,19.7 101,19.6 C113,19.6 123.5,25 123.8,34 C124,40 123,44 120.5,45 C116,45.5 110,45.5 106.5,46.3 C104.5,49 103.5,53 101.5,56 C99,58.5 94,57.5 90,55 C85,52 81,47 80.4,38 Z" fill="#7a1410" transform="translate(102,37) scale(1.05) translate(-102,-37)"/>
<path d="M135.4,36.5 C135.4,26 143,19.7 156,19.6 C169,19.5 178.2,26 178.2,36.5 C178.2,44 175.5,50 171,53 C166,56 158,56.3 151,55.3 C142,54 135.4,47 135.4,36.5 Z" fill="#7a1410" transform="translate(156.7,37.5) scale(1.05) translate(-156.7,-37.5)"/>
</g>
<g filter="url(#b08)">
<path d="M29.6,42 C29.8,33 31.5,26 36.5,21.8 C40,19.5 44,19 48.5,19 C54,19 58.5,20.5 61.5,23.5 C65,27 67,32.5 67,40 C67,44 66,47 63.5,47.8 C58,48.5 53,46.5 50.5,47 L49.8,49.5 L47,49.5 L46.3,47 C44,46.5 39,48.3 34,48 C30.5,47.5 29.6,45 29.6,42 Z" fill="#303030" transform="translate(48.6,34) scale(1.04) translate(-48.6,-34)"/>
<path d="M80.4,38 C80.4,27 88.5,19.7 101,19.6 C113,19.6 123.5,25 123.8,34 C124,40 123,44 120.5,45 C116,45.5 110,45.5 106.5,46.3 C104.5,49 103.5,53 101.5,56 C99,58.5 94,57.5 90,55 C85,52 81,47 80.4,38 Z" fill="#303030" transform="translate(102,37) scale(1.04) translate(-102,-37)"/>
<path d="M135.4,36.5 C135.4,26 143,19.7 156,19.6 C169,19.5 178.2,26 178.2,36.5 C178.2,44 175.5,50 171,53 C166,56 158,56.3 151,55.3 C142,54 135.4,47 135.4,36.5 Z" fill="#303030" transform="translate(156.7,37.5) scale(1.04) translate(-156.7,-37.5)"/>
<path d="M31.5,47 C40,46 57,46 66.5,47 L67,66 L31,66 Z" fill="#343434"/>
<path d="M81,46 C84,52 92,56 100,56.5 L104,47 C110,46 118,46 124,44 L125.5,58 L127,66 L83,66 C81,60 80,52 81,46 Z" fill="#343434"/>
</g>
<g filter="url(#b10)">
<ellipse cx="48" cy="61.5" rx="15" ry="4.5" fill="#858585"/>
<ellipse cx="36" cy="56" rx="4" ry="6" fill="#606060"/>
<ellipse cx="60" cy="55" rx="5" ry="5" fill="#646464"/>
<ellipse cx="113" cy="54.5" rx="8" ry="6" fill="#858585"/>
<ellipse cx="120" cy="50" rx="3" ry="3" fill="#a8a8a8"/>
<ellipse cx="104" cy="62" rx="5" ry="4" fill="#727272"/>
<ellipse cx="118" cy="62" rx="5" ry="3" fill="#606060"/>
<ellipse cx="88" cy="60" rx="6" ry="5" fill="#686868"/>
<ellipse cx="83" cy="55" rx="3.5" ry="5" fill="#606060"/>
<ellipse cx="80" cy="62" rx="3" ry="4" fill="#555555"/>
</g>
<g filter="url(#b06)" fill="none">
<path d="M38,58 L38,66" stroke="#2a2a2a" stroke-width="1.0"/>
<path d="M45,58.5 L45,66" stroke="#2a2a2a" stroke-width="1.0"/>
<path d="M57,58 L57,66" stroke="#2a2a2a" stroke-width="1.0"/>
<path d="M110,58 L116,56" stroke="#303030" stroke-width="1.0"/>
<path d="M109,51 L114,52" stroke="#303030" stroke-width="1.0"/>
</g>
<g filter="url(#b06)" fill="none" opacity="0.85">
<path d="M40.5,48 L41,57" stroke="#e0e0e0" stroke-width="1.2"/>
<path d="M41.3,58 L41.3,66" stroke="#e0e0e0" stroke-width="1.1"/>
<path d="M53.4,58 L53.4,66" stroke="#e0e0e0" stroke-width="1.3"/>
<path d="M31.8,48 L32.2,60" stroke="#e0e0e0" stroke-width="1.3"/>
<path d="M61,49 L66,53" stroke="#e0e0e0" stroke-width="1.0"/>
<path d="M64,55 L66.5,59" stroke="#e0e0e0" stroke-width="0.9"/>
<path d="M80.3,44 C81,52 84,59 89,66" stroke="#e0e0e0" stroke-width="1.0"/>
<path d="M122.5,49 L122,55" stroke="#e0e0e0" stroke-width="1.6"/>
<path d="M117.5,56.5 L119,58.5" stroke="#e0e0e0" stroke-width="1.5"/>
<path d="M124.5,44 L125.5,58" stroke="#e0e0e0" stroke-width="0.9"/>
<path d="M106,56 L110,55" stroke="#e0e0e0" stroke-width="1.0"/>
</g>
<g filter="url(#b08)">
<path d="M29.6,42 C29.8,33 31.5,26 36.5,21.8 C40,19.5 44,19 48.5,19 C54,19 58.5,20.5 61.5,23.5 C65,27 67,32.5 67,40 C67,44 66,47 63.5,47.8 C58,48.5 53,46.5 50.5,47 L49.8,49.5 L47,49.5 L46.3,47 C44,46.5 39,48.3 34,48 C30.5,47.5 29.6,45 29.6,42 Z" fill="#5a5a5a" transform="translate(48.6,34) scale(0.97) translate(-48.6,-34)"/>
<path d="M80.4,38 C80.4,27 88.5,19.7 101,19.6 C113,19.6 123.5,25 123.8,34 C124,40 123,44 120.5,45 C116,45.5 110,45.5 106.5,46.3 C104.5,49 103.5,53 101.5,56 C99,58.5 94,57.5 90,55 C85,52 81,47 80.4,38 Z" fill="#5a5a5a" transform="translate(102,37) scale(0.97) translate(-102,-37)"/>
<path d="M135.4,36.5 C135.4,26 143,19.7 156,19.6 C169,19.5 178.2,26 178.2,36.5 C178.2,44 175.5,50 171,53 C166,56 158,56.3 151,55.3 C142,54 135.4,47 135.4,36.5 Z" fill="#5a5a5a" transform="translate(156.7,37.5) scale(0.97) translate(-156.7,-37.5)"/>
</g>
<g filter="url(#b05)" fill="none" stroke="#909090" stroke-width="0.9">
</g>
<g filter="url(#b05)"><circle cx="177.6" cy="55.8" r="2.7" fill="#8a8a8a"/></g>
<g filter="url(#b04)" fill="none">
<path d="M28.9,46 C28.9,33 30.7,25.5 35.9,21.1 C39.5,18.7 43.7,18.2 48.5,18.2 C54.3,18.2 59,19.7 62.2,22.9 C65.9,26.6 67.9,32.3 67.9,40 C67.9,43 67.6,45 67.3,46.5" stroke="#c89090" stroke-width="0.8"/>
<path d="M79.7,46 C79.4,27 87.8,19 101,18.9 C114,18.9 124.5,24.5 124.6,36 C124.7,40 124.5,44 124.2,46" stroke="#c89090" stroke-width="0.8"/>
<path d="M135.4,36.5 C135.4,26 143,19.7 156,19.6 C169,19.5 178.2,26 178.2,36.5 C178.2,44 175.5,50 171,53 C166,56 158,56.3 151,55.3 C142,54 135.4,47 135.4,36.5 Z" transform="translate(156.7,37.5) scale(1.035) translate(-156.7,-37.5)" stroke="#c89090" stroke-width="0.7"/>
</g>
<g filter="url(#b12)" opacity="0.8">
<ellipse cx="47.5" cy="52" rx="13" ry="4.5" fill="#c83020" opacity="0.85"/>
<path d="M35.5,50 L40,57" stroke="#e88030" stroke-width="1.8"/>
<ellipse cx="47" cy="49" rx="3" ry="2.2" fill="#e88030"/>
<ellipse cx="114" cy="47" rx="2.8" ry="2.5" fill="#e88030"/>
<ellipse cx="110" cy="46" rx="7" ry="2.2" fill="#c83020"/>
<path d="M97,52 L105.5,46.5 L105,66 L95.5,66 Z" fill="#c83020" opacity="0.6"/>
<ellipse cx="93" cy="57" rx="6" ry="3.5" fill="#c83020" opacity="0.7"/>
</g>
<g filter="url(#b06)" opacity="1">
<path d="M29.6,42 C29.8,33 31.5,26 36.5,21.8 C40,19.5 44,19 48.5,19 C54,19 58.5,20.5 61.5,23.5 C65,27 67,32.5 67,40 C67,44 66,47 63.5,47.8 C58,48.5 53,46.5 50.5,47 L49.8,49.5 L47,49.5 L46.3,47 C44,46.5 39,48.3 34,48 C30.5,47.5 29.6,45 29.6,42 Z" fill="#c83020" transform="translate(48.6,34) scale(1.015) translate(-48.6,-34)"/>
<path d="M80.4,38 C80.4,27 88.5,19.7 101,19.6 C113,19.6 123.5,25 123.8,34 C124,40 123,44 120.5,45 C116,45.5 110,45.5 106.5,46.3 C104.5,49 103.5,53 101.5,56 C99,58.5 94,57.5 90,55 C85,52 81,47 80.4,38 Z" fill="#c83020" transform="translate(102,37) scale(1.015) translate(-102,-37)"/>
<path d="M135.4,36.5 C135.4,26 143,19.7 156,19.6 C169,19.5 178.2,26 178.2,36.5 C178.2,44 175.5,50 171,53 C166,56 158,56.3 151,55.3 C142,54 135.4,47 135.4,36.5 Z" fill="#c83020" transform="translate(156.7,37.5) scale(1.015) translate(-156.7,-37.5)"/>
<circle cx="170.2" cy="57.2" r="3.4" fill="#c83020"/>
<path d="M167,51 L173,51 L172.5,56 L167.8,56 Z" fill="#c83020"/>
</g>
<g filter="url(#b08)" opacity="1">
<path d="M29.6,42 C29.8,33 31.5,26 36.5,21.8 C40,19.5 44,19 48.5,19 C54,19 58.5,20.5 61.5,23.5 C65,27 67,32.5 67,40 C67,44 66,47 63.5,47.8 C58,48.5 53,46.5 50.5,47 L49.8,49.5 L47,49.5 L46.3,47 C44,46.5 39,48.3 34,48 C30.5,47.5 29.6,45 29.6,42 Z" fill="#d08434" transform="translate(48.6,34) scale(0.91) translate(-48.6,-34)"/>
<path d="M80.4,38 C80.4,27 88.5,19.7 101,19.6 C113,19.6 123.5,25 123.8,34 C124,40 123,44 120.5,45 C116,45.5 110,45.5 106.5,46.3 C104.5,49 103.5,53 101.5,56 C99,58.5 94,57.5 90,55 C85,52 81,47 80.4,38 Z" fill="#d08434" transform="translate(102,37) scale(0.91) translate(-102,-37)"/>
<path d="M135.4,36.5 C135.4,26 143,19.7 156,19.6 C169,19.5 178.2,26 178.2,36.5 C178.2,44 175.5,50 171,53 C166,56 158,56.3 151,55.3 C142,54 135.4,47 135.4,36.5 Z" fill="#d08434" transform="translate(156.7,37.5) scale(0.91) translate(-156.7,-37.5)"/>
</g>
<g filter="url(#b12)">
<path d="M29.6,42 C29.8,33 31.5,26 36.5,21.8 C40,19.5 44,19 48.5,19 C54,19 58.5,20.5 61.5,23.5 C65,27 67,32.5 67,40 C67,44 66,47 63.5,47.8 C58,48.5 53,46.5 50.5,47 L49.8,49.5 L47,49.5 L46.3,47 C44,46.5 39,48.3 34,48 C30.5,47.5 29.6,45 29.6,42 Z" fill="url(#y2cor)" transform="translate(48.6,34) scale(0.86) translate(-48.6,-34)"/>
<path d="M80.4,38 C80.4,27 88.5,19.7 101,19.6 C113,19.6 123.5,25 123.8,34 C124,40 123,44 120.5,45 C116,45.5 110,45.5 106.5,46.3 C104.5,49 103.5,53 101.5,56 C99,58.5 94,57.5 90,55 C85,52 81,47 80.4,38 Z" fill="url(#y2sag)" transform="translate(102,37) scale(0.86) translate(-102,-37)"/>
<path d="M135.4,36.5 C135.4,26 143,19.7 156,19.6 C169,19.5 178.2,26 178.2,36.5 C178.2,44 175.5,50 171,53 C166,56 158,56.3 151,55.3 C142,54 135.4,47 135.4,36.5 Z" fill="url(#y2ax)" transform="translate(156.7,37.5) scale(0.86) translate(-156.7,-37.5)"/>
</g>
<ellipse cx="170.2" cy="57.2" rx="2.3" ry="2.3" fill="#c6c24a" opacity="0.0" filter="url(#b06)"/>
<g filter="url(#tex1)" opacity="0.45">
<path d="M29.6,42 C29.8,33 31.5,26 36.5,21.8 C40,19.5 44,19 48.5,19 C54,19 58.5,20.5 61.5,23.5 C65,27 67,32.5 67,40 C67,44 66,47 63.5,47.8 C58,48.5 53,46.5 50.5,47 L49.8,49.5 L47,49.5 L46.3,47 C44,46.5 39,48.3 34,48 C30.5,47.5 29.6,45 29.6,42 Z" fill="url(#t20cor)" transform="translate(48.6,34) scale(0.96) translate(-48.6,-34)"/>
<path d="M80.4,38 C80.4,27 88.5,19.7 101,19.6 C113,19.6 123.5,25 123.8,34 C124,40 123,44 120.5,45 C116,45.5 110,45.5 106.5,46.3 C104.5,49 103.5,53 101.5,56 C99,58.5 94,57.5 90,55 C85,52 81,47 80.4,38 Z" fill="url(#t20sag)" transform="translate(102,37) scale(0.96) translate(-102,-37)"/>
<path d="M135.4,36.5 C135.4,26 143,19.7 156,19.6 C169,19.5 178.2,26 178.2,36.5 C178.2,44 175.5,50 171,53 C166,56 158,56.3 151,55.3 C142,54 135.4,47 135.4,36.5 Z" fill="url(#t20ax)" transform="translate(156.7,37.5) scale(0.96) translate(-156.7,-37.5)"/>
</g>
<g filter="url(#b06)" fill="none" stroke="#b04018" stroke-width="0.9" opacity="0.4">
<path d="M38.8,35.0 Q35.8,32.7 32.4,34.4"/>
<path d="M38.8,33.0 Q36.4,32.3 34.1,31.5"/>
<path d="M40.4,31.3 Q36.5,31.2 34.5,28.0"/>
<path d="M42.0,31.0 Q39.3,28.5 36.1,26.6"/>
<path d="M42.8,30.2 Q41.7,26.3 37.8,25.3"/>
<path d="M44.9,29.0 Q41.4,26.5 41.4,22.2"/>
<path d="M46.3,28.6 Q47.0,24.9 44.4,22.2"/>
<path d="M47.4,28.1 Q48.8,24.0 46.3,20.5"/>
<path d="M49.3,26.2 Q50.2,23.6 49.7,21.0"/>
<path d="M51.2,26.6 Q53.7,24.4 52.7,21.2"/>
<path d="M53.1,29.0 Q53.6,25.3 56.8,23.3"/>
<path d="M53.4,29.9 Q56.1,27.4 58.0,24.2"/>
<path d="M55.7,29.8 Q57.4,27.3 60.1,25.9"/>
<path d="M56.9,32.3 Q59.8,31.0 62.8,29.7"/>
<path d="M56.4,34.1 Q59.8,30.3 64.6,32.0"/>
<path d="M58.7,35.5 Q61.3,36.4 63.8,35.2"/>
<path d="M90.7,38.2 Q87.3,40.4 83.7,38.3"/>
<path d="M89.7,36.6 Q86.7,35.1 83.6,35.8"/>
<path d="M90.6,33.8 Q87.4,33.4 84.7,31.7"/>
<path d="M91.7,32.9 Q89.4,30.5 86.0,30.1"/>
<path d="M93.0,31.0 Q91.8,27.8 88.4,27.5"/>
<path d="M94.8,31.4 Q93.5,26.9 88.9,25.9"/>
<path d="M95.6,28.9 Q93.2,26.9 92.1,23.9"/>
<path d="M98.4,30.0 Q95.2,27.4 95.3,23.3"/>
<path d="M100.1,27.3 Q98.1,25.1 99.2,22.3"/>
<path d="M102.7,28.5 Q101.7,25.0 103.1,21.8"/>
<path d="M104.2,27.8 Q104.6,24.8 105.5,22.0"/>
<path d="M105.6,27.9 Q106.4,25.4 107.3,23.0"/>
<path d="M107.3,30.9 Q112.1,29.0 112.4,23.9"/>
<path d="M109.8,30.3 Q111.8,28.0 114.1,26.0"/>
<path d="M110.9,31.0 Q113.3,28.9 115.8,27.1"/>
<path d="M112.9,33.4 Q116.2,31.6 119.8,30.4"/>
<path d="M113.0,34.5 Q116.2,32.5 119.9,32.4"/>
<path d="M111.7,36.4 Q116.6,38.7 120.6,35.0"/>
<path d="M171.7,38.4 Q173.7,37.9 175.8,38.6"/>
<path d="M170.4,39.3 Q173.0,41.5 176.1,40.0"/>
<path d="M170.9,42.7 Q172.5,44.0 174.6,44.0"/>
<path d="M168.7,45.5 Q169.8,46.9 171.4,47.3"/>
<path d="M166.5,46.5 Q167.6,48.6 169.9,49.6"/>
<path d="M164.6,49.1 Q165.3,50.4 166.3,51.5"/>
<path d="M161.7,49.1 Q161.9,50.8 163.0,52.2"/>
<path d="M157.6,50.5 Q156.9,52.1 157.9,53.6"/>
<path d="M154.6,49.9 Q153.2,51.6 154.0,53.6"/>
<path d="M151.2,49.7 Q150.0,51.1 149.8,52.9"/>
<path d="M146.8,48.0 Q145.8,49.0 144.8,50.0"/>
<path d="M145.9,46.9 Q144.5,48.3 143.0,49.5"/>
<path d="M143.4,43.7 Q142.1,45.7 139.7,45.5"/>
<path d="M142.4,40.9 Q140.3,41.8 138.1,42.0"/>
<path d="M141.3,38.7 Q139.3,38.0 137.4,38.9"/>
<path d="M143.2,37.1 Q140.5,36.3 137.7,36.9"/>
<path d="M142.1,34.0 Q139.7,35.1 138.1,33.0"/>
<path d="M144.9,31.6 Q142.3,32.0 140.9,29.7"/>
<path d="M146.6,29.9 Q143.6,30.1 142.9,27.2"/>
<path d="M148.7,27.7 Q147.5,25.7 145.8,24.2"/>
<path d="M150.2,25.4 Q149.6,24.6 149.3,23.6"/>
<path d="M153.9,25.8 Q154.5,23.9 153.1,22.4"/>
<path d="M157.2,26.6 Q155.4,23.9 157.4,21.4"/>
<path d="M160.6,26.2 Q163.0,24.7 162.0,22.1"/>
<path d="M164.0,27.2 Q165.9,25.7 166.7,23.4"/>
<path d="M165.2,28.8 Q167.3,27.1 168.9,25.1"/>
<path d="M170.1,30.2 Q171.3,29.1 172.8,28.7"/>
<path d="M168.8,33.5 Q171.4,33.0 173.9,31.9"/>
<path d="M169.9,35.3 Q173.1,36.8 175.6,34.3"/>
<path d="M171.1,37.3 Q173.2,36.4 175.3,37.2"/>
</g>
<g filter="url(#b06)" fill="none" stroke="#b86020" opacity="0.6">
<path d="M48,22 L47.6,42" stroke-width="0.8"/>
<path d="M93,43 C95,34 103,29.5 110,30.5 C115,31.5 117,34 117.5,37.5" stroke-width="2.2"/>
<path d="M104,38 C106,40 107,44 106,46" stroke-width="1.2"/>
<path d="M148,31.5 L152.8,37 L148.2,42.5" stroke-width="2.4"/>
<path d="M166,33 L159.5,37 L166,41" stroke-width="2.2"/>
</g>
<g filter="url(#b15)" opacity="0.6" fill="#c0c090">
<circle cx="39.5" cy="38" r="3.5"/>
<circle cx="56.5" cy="37.5" r="3"/>
<circle cx="89.5" cy="42" r="3"/>
<circle cx="96" cy="47" r="2.5"/>
<circle cx="171" cy="40" r="2.5"/>
<circle cx="159.5" cy="44.5" r="2.5"/>
</g>
</g>
<g transform="translate(0,205.65)" clip-path="url(#strip)">
<rect x="20.2" y="14.0" width="165.8" height="51.7" fill="#000"/>
<g filter="url(#texbg)" opacity="0.45"><rect x="20.2" y="14.0" width="165.8" height="51.7" fill="#5a0c08"/></g>
<g filter="url(#b25)" opacity="0.5">
<path d="M29.6,42 C29.8,33 31.5,26 36.5,21.8 C40,19.5 44,19 48.5,19 C54,19 58.5,20.5 61.5,23.5 C65,27 67,32.5 67,40 C67,44 66,47 63.5,47.8 C58,48.5 53,46.5 50.5,47 L49.8,49.5 L47,49.5 L46.3,47 C44,46.5 39,48.3 34,48 C30.5,47.5 29.6,45 29.6,42 Z" fill="#3a0a06" transform="translate(48.6,34) scale(1.06) translate(-48.6,-34)"/>
<path d="M80.4,38 C80.4,27 88.5,19.7 101,19.6 C113,19.6 123.5,25 123.8,34 C124,40 123,44 120.5,45 C116,45.5 110,45.5 106.5,46.3 C104.5,49 103.5,53 101.5,56 C99,58.5 94,57.5 90,55 C85,52 81,47 80.4,38 Z" fill="#3a0a06" transform="translate(102,37) scale(1.06) translate(-102,-37)"/>
<path d="M135.4,36.5 C135.4,26 143,19.7 156,19.6 C169,19.5 178.2,26 178.2,36.5 C178.2,44 175.5,50 171,53 C166,56 158,56.3 151,55.3 C142,54 135.4,47 135.4,36.5 Z" fill="#3a0a06" transform="translate(156.7,37.5) scale(1.06) translate(-156.7,-37.5)"/>
</g>
<g filter="url(#b08)">
<path d="M29.6,42 C29.8,33 31.5,26 36.5,21.8 C40,19.5 44,19 48.5,19 C54,19 58.5,20.5 61.5,23.5 C65,27 67,32.5 67,40 C67,44 66,47 63.5,47.8 C58,48.5 53,46.5 50.5,47 L49.8,49.5 L47,49.5 L46.3,47 C44,46.5 39,48.3 34,48 C30.5,47.5 29.6,45 29.6,42 Z" fill="#303030" transform="translate(48.6,34) scale(1.04) translate(-48.6,-34)"/>
<path d="M80.4,38 C80.4,27 88.5,19.7 101,19.6 C113,19.6 123.5,25 123.8,34 C124,40 123,44 120.5,45 C116,45.5 110,45.5 106.5,46.3 C104.5,49 103.5,53 101.5,56 C99,58.5 94,57.5 90,55 C85,52 81,47 80.4,38 Z" fill="#303030" transform="translate(102,37) scale(1.04) translate(-102,-37)"/>
<path d="M135.4,36.5 C135.4,26 143,19.7 156,19.6 C169,19.5 178.2,26 178.2,36.5 C178.2,44 175.5,50 171,53 C166,56 158,56.3 151,55.3 C142,54 135.4,47 135.4,36.5 Z" fill="#303030" transform="translate(156.7,37.5) scale(1.04) translate(-156.7,-37.5)"/>
<path d="M31.5,47 C40,46 57,46 66.5,47 L67,66 L31,66 Z" fill="#3a3a3a"/>
<path d="M81,46 C84,52 92,56 100,56.5 L104,47 C110,46 118,46 124,44 L125.5,58 L127,66 L83,66 C81,60 80,52 81,46 Z" fill="#3a3a3a"/>
</g>
<g filter="url(#b10)">
<ellipse cx="48" cy="61.5" rx="15" ry="4.5" fill="#858585"/>
<ellipse cx="36" cy="56" rx="4" ry="6" fill="#606060"/>
<ellipse cx="60" cy="55" rx="5" ry="5" fill="#646464"/>
<ellipse cx="113" cy="54.5" rx="8" ry="6" fill="#858585"/>
<ellipse cx="120" cy="50" rx="3" ry="3" fill="#a8a8a8"/>
<ellipse cx="104" cy="62" rx="5" ry="4" fill="#727272"/>
<ellipse cx="118" cy="62" rx="5" ry="3" fill="#606060"/>
<ellipse cx="88" cy="60" rx="6" ry="5" fill="#686868"/>
<ellipse cx="83" cy="55" rx="3.5" ry="5" fill="#606060"/>
<ellipse cx="80" cy="62" rx="3" ry="4" fill="#555555"/>
</g>
<g filter="url(#b06)" fill="none">
<path d="M38,58 L38,66" stroke="#2a2a2a" stroke-width="1.0"/>
<path d="M45,58.5 L45,66" stroke="#2a2a2a" stroke-width="1.0"/>
<path d="M57,58 L57,66" stroke="#2a2a2a" stroke-width="1.0"/>
<path d="M110,58 L116,56" stroke="#303030" stroke-width="1.0"/>
<path d="M109,51 L114,52" stroke="#303030" stroke-width="1.0"/>
</g>
<g filter="url(#b06)" fill="none" opacity="0.85">
<path d="M40.5,48 L41,57" stroke="#e8e8e8" stroke-width="1.2"/>
<path d="M41.3,58 L41.3,66" stroke="#e8e8e8" stroke-width="1.1"/>
<path d="M53.4,58 L53.4,66" stroke="#e8e8e8" stroke-width="1.3"/>
<path d="M31.8,48 L32.2,60" stroke="#e8e8e8" stroke-width="1.3"/>
<path d="M61,49 L66,53" stroke="#e8e8e8" stroke-width="1.0"/>
<path d="M64,55 L66.5,59" stroke="#e8e8e8" stroke-width="0.9"/>
<path d="M80.3,44 C81,52 84,59 89,66" stroke="#e8e8e8" stroke-width="1.0"/>
<path d="M122.5,49 L122,55" stroke="#e8e8e8" stroke-width="1.6"/>
<path d="M117.5,56.5 L119,58.5" stroke="#e8e8e8" stroke-width="1.5"/>
<path d="M124.5,44 L125.5,58" stroke="#e8e8e8" stroke-width="0.9"/>
<path d="M106,56 L110,55" stroke="#e8e8e8" stroke-width="1.0"/>
</g>
<g filter="url(#b08)">
<path d="M29.6,42 C29.8,33 31.5,26 36.5,21.8 C40,19.5 44,19 48.5,19 C54,19 58.5,20.5 61.5,23.5 C65,27 67,32.5 67,40 C67,44 66,47 63.5,47.8 C58,48.5 53,46.5 50.5,47 L49.8,49.5 L47,49.5 L46.3,47 C44,46.5 39,48.3 34,48 C30.5,47.5 29.6,45 29.6,42 Z" fill="#645a5a" transform="translate(48.6,34) scale(0.97) translate(-48.6,-34)"/>
<path d="M80.4,38 C80.4,27 88.5,19.7 101,19.6 C113,19.6 123.5,25 123.8,34 C124,40 123,44 120.5,45 C116,45.5 110,45.5 106.5,46.3 C104.5,49 103.5,53 101.5,56 C99,58.5 94,57.5 90,55 C85,52 81,47 80.4,38 Z" fill="#645a5a" transform="translate(102,37) scale(0.97) translate(-102,-37)"/>
<path d="M135.4,36.5 C135.4,26 143,19.7 156,19.6 C169,19.5 178.2,26 178.2,36.5 C178.2,44 175.5,50 171,53 C166,56 158,56.3 151,55.3 C142,54 135.4,47 135.4,36.5 Z" fill="#645a5a" transform="translate(156.7,37.5) scale(0.97) translate(-156.7,-37.5)"/>
</g>
<g filter="url(#b05)" fill="none" stroke="#a09898" stroke-width="0.9">
</g>
<g filter="url(#b05)"><circle cx="177.6" cy="55.8" r="2.7" fill="#8a8a8a"/></g>
<g filter="url(#b04)" fill="none">
<path d="M28.9,46 C28.9,33 30.7,25.5 35.9,21.1 C39.5,18.7 43.7,18.2 48.5,18.2 C54.3,18.2 59,19.7 62.2,22.9 C65.9,26.6 67.9,32.3 67.9,40 C67.9,43 67.6,45 67.3,46.5" stroke="#b0a8a8" stroke-width="1.3"/>
<path d="M79.7,46 C79.4,27 87.8,19 101,18.9 C114,18.9 124.5,24.5 124.6,36 C124.7,40 124.5,44 124.2,46" stroke="#b0a8a8" stroke-width="1.3"/>
<path d="M135.4,36.5 C135.4,26 143,19.7 156,19.6 C169,19.5 178.2,26 178.2,36.5 C178.2,44 175.5,50 171,53 C166,56 158,56.3 151,55.3 C142,54 135.4,47 135.4,36.5 Z" transform="translate(156.7,37.5) scale(1.035) translate(-156.7,-37.5)" stroke="#b0a8a8" stroke-width="1.3"/>
</g>
<g filter="url(#b12)" opacity="0.55">
<ellipse cx="47.5" cy="52" rx="13" ry="4.5" fill="#b01818" opacity="0.85"/>
<path d="M35.5,50 L40,57" stroke="#e88030" stroke-width="1.8"/>
<ellipse cx="47" cy="49" rx="3" ry="2.2" fill="#e88030"/>
<ellipse cx="114" cy="47" rx="2.8" ry="2.5" fill="#e88030"/>
<ellipse cx="110" cy="46" rx="7" ry="2.2" fill="#b01818"/>
<path d="M97,52 L105.5,46.5 L105,66 L95.5,66 Z" fill="#b01818" opacity="0.6"/>
<ellipse cx="93" cy="57" rx="6" ry="3.5" fill="#b01818" opacity="0.7"/>
</g>
<g filter="url(#b06)" opacity="0.42">
<path d="M29.6,42 C29.8,33 31.5,26 36.5,21.8 C40,19.5 44,19 48.5,19 C54,19 58.5,20.5 61.5,23.5 C65,27 67,32.5 67,40 C67,44 66,47 63.5,47.8 C58,48.5 53,46.5 50.5,47 L49.8,49.5 L47,49.5 L46.3,47 C44,46.5 39,48.3 34,48 C30.5,47.5 29.6,45 29.6,42 Z" fill="#b01818" transform="translate(48.6,34) scale(1.015) translate(-48.6,-34)"/>
<path d="M80.4,38 C80.4,27 88.5,19.7 101,19.6 C113,19.6 123.5,25 123.8,34 C124,40 123,44 120.5,45 C116,45.5 110,45.5 106.5,46.3 C104.5,49 103.5,53 101.5,56 C99,58.5 94,57.5 90,55 C85,52 81,47 80.4,38 Z" fill="#b01818" transform="translate(102,37) scale(1.015) translate(-102,-37)"/>
<path d="M135.4,36.5 C135.4,26 143,19.7 156,19.6 C169,19.5 178.2,26 178.2,36.5 C178.2,44 175.5,50 171,53 C166,56 158,56.3 151,55.3 C142,54 135.4,47 135.4,36.5 Z" fill="#b01818" transform="translate(156.7,37.5) scale(1.015) translate(-156.7,-37.5)"/>
<circle cx="170.2" cy="57.2" r="3.4" fill="#b01818"/>
<path d="M167,51 L173,51 L172.5,56 L167.8,56 Z" fill="#b01818"/>
</g>
<g filter="url(#b08)" opacity="0.0">
<path d="M29.6,42 C29.8,33 31.5,26 36.5,21.8 C40,19.5 44,19 48.5,19 C54,19 58.5,20.5 61.5,23.5 C65,27 67,32.5 67,40 C67,44 66,47 63.5,47.8 C58,48.5 53,46.5 50.5,47 L49.8,49.5 L47,49.5 L46.3,47 C44,46.5 39,48.3 34,48 C30.5,47.5 29.6,45 29.6,42 Z" fill="#a83020" transform="translate(48.6,34) scale(0.94) translate(-48.6,-34)"/>
<path d="M80.4,38 C80.4,27 88.5,19.7 101,19.6 C113,19.6 123.5,25 123.8,34 C124,40 123,44 120.5,45 C116,45.5 110,45.5 106.5,46.3 C104.5,49 103.5,53 101.5,56 C99,58.5 94,57.5 90,55 C85,52 81,47 80.4,38 Z" fill="#a83020" transform="translate(102,37) scale(0.94) translate(-102,-37)"/>
<path d="M135.4,36.5 C135.4,26 143,19.7 156,19.6 C169,19.5 178.2,26 178.2,36.5 C178.2,44 175.5,50 171,53 C166,56 158,56.3 151,55.3 C142,54 135.4,47 135.4,36.5 Z" fill="#a83020" transform="translate(156.7,37.5) scale(0.94) translate(-156.7,-37.5)"/>
</g>
<g filter="url(#b12)">
<path d="M29.6,42 C29.8,33 31.5,26 36.5,21.8 C40,19.5 44,19 48.5,19 C54,19 58.5,20.5 61.5,23.5 C65,27 67,32.5 67,40 C67,44 66,47 63.5,47.8 C58,48.5 53,46.5 50.5,47 L49.8,49.5 L47,49.5 L46.3,47 C44,46.5 39,48.3 34,48 C30.5,47.5 29.6,45 29.6,42 Z" fill="url(#y3cor)" transform="translate(48.6,34) scale(0.86) translate(-48.6,-34)"/>
<path d="M80.4,38 C80.4,27 88.5,19.7 101,19.6 C113,19.6 123.5,25 123.8,34 C124,40 123,44 120.5,45 C116,45.5 110,45.5 106.5,46.3 C104.5,49 103.5,53 101.5,56 C99,58.5 94,57.5 90,55 C85,52 81,47 80.4,38 Z" fill="url(#y3sag)" transform="translate(102,37) scale(0.86) translate(-102,-37)"/>
<path d="M135.4,36.5 C135.4,26 143,19.7 156,19.6 C169,19.5 178.2,26 178.2,36.5 C178.2,44 175.5,50 171,53 C166,56 158,56.3 151,55.3 C142,54 135.4,47 135.4,36.5 Z" fill="url(#y3ax)" transform="translate(156.7,37.5) scale(0.86) translate(-156.7,-37.5)"/>
</g>
<ellipse cx="170.2" cy="57.2" rx="2.3" ry="2.3" fill="#e0a030" opacity="0.0" filter="url(#b06)"/>
<g filter="url(#tex2)" opacity="0.3">
<path d="M29.6,42 C29.8,33 31.5,26 36.5,21.8 C40,19.5 44,19 48.5,19 C54,19 58.5,20.5 61.5,23.5 C65,27 67,32.5 67,40 C67,44 66,47 63.5,47.8 C58,48.5 53,46.5 50.5,47 L49.8,49.5 L47,49.5 L46.3,47 C44,46.5 39,48.3 34,48 C30.5,47.5 29.6,45 29.6,42 Z" fill="#c02020" transform="translate(48.6,34) scale(0.97) translate(-48.6,-34)"/>
<path d="M80.4,38 C80.4,27 88.5,19.7 101,19.6 C113,19.6 123.5,25 123.8,34 C124,40 123,44 120.5,45 C116,45.5 110,45.5 106.5,46.3 C104.5,49 103.5,53 101.5,56 C99,58.5 94,57.5 90,55 C85,52 81,47 80.4,38 Z" fill="#c02020" transform="translate(102,37) scale(0.97) translate(-102,-37)"/>
<path d="M135.4,36.5 C135.4,26 143,19.7 156,19.6 C169,19.5 178.2,26 178.2,36.5 C178.2,44 175.5,50 171,53 C166,56 158,56.3 151,55.3 C142,54 135.4,47 135.4,36.5 Z" fill="#c02020" transform="translate(156.7,37.5) scale(0.97) translate(-156.7,-37.5)"/>
</g>
<g filter="url(#tex1)" opacity="0.25">
<path d="M29.6,42 C29.8,33 31.5,26 36.5,21.8 C40,19.5 44,19 48.5,19 C54,19 58.5,20.5 61.5,23.5 C65,27 67,32.5 67,40 C67,44 66,47 63.5,47.8 C58,48.5 53,46.5 50.5,47 L49.8,49.5 L47,49.5 L46.3,47 C44,46.5 39,48.3 34,48 C30.5,47.5 29.6,45 29.6,42 Z" fill="#2a2020" transform="translate(48.6,34) scale(0.95) translate(-48.6,-34)"/>
<path d="M80.4,38 C80.4,27 88.5,19.7 101,19.6 C113,19.6 123.5,25 123.8,34 C124,40 123,44 120.5,45 C116,45.5 110,45.5 106.5,46.3 C104.5,49 103.5,53 101.5,56 C99,58.5 94,57.5 90,55 C85,52 81,47 80.4,38 Z" fill="#2a2020" transform="translate(102,37) scale(0.95) translate(-102,-37)"/>
<path d="M135.4,36.5 C135.4,26 143,19.7 156,19.6 C169,19.5 178.2,26 178.2,36.5 C178.2,44 175.5,50 171,53 C166,56 158,56.3 151,55.3 C142,54 135.4,47 135.4,36.5 Z" fill="#2a2020" transform="translate(156.7,37.5) scale(0.95) translate(-156.7,-37.5)"/>
</g>
<g filter="url(#b06)" fill="none" stroke="#2e2424" stroke-width="0.9" opacity="0.3">
<path d="M38.8,35.0 Q35.8,32.7 32.4,34.4"/>
<path d="M38.8,33.0 Q36.4,32.3 34.1,31.5"/>
<path d="M40.4,31.3 Q36.5,31.2 34.5,28.0"/>
<path d="M42.0,31.0 Q39.3,28.5 36.1,26.6"/>
<path d="M42.8,30.2 Q41.7,26.3 37.8,25.3"/>
<path d="M44.9,29.0 Q41.4,26.5 41.4,22.2"/>
<path d="M46.3,28.6 Q47.0,24.9 44.4,22.2"/>
<path d="M47.4,28.1 Q48.8,24.0 46.3,20.5"/>
<path d="M49.3,26.2 Q50.2,23.6 49.7,21.0"/>
<path d="M51.2,26.6 Q53.7,24.4 52.7,21.2"/>
<path d="M53.1,29.0 Q53.6,25.3 56.8,23.3"/>
<path d="M53.4,29.9 Q56.1,27.4 58.0,24.2"/>
<path d="M55.7,29.8 Q57.4,27.3 60.1,25.9"/>
<path d="M56.9,32.3 Q59.8,31.0 62.8,29.7"/>
<path d="M56.4,34.1 Q59.8,30.3 64.6,32.0"/>
<path d="M58.7,35.5 Q61.3,36.4 63.8,35.2"/>
<path d="M90.7,38.2 Q87.3,40.4 83.7,38.3"/>
<path d="M89.7,36.6 Q86.7,35.1 83.6,35.8"/>
<path d="M90.6,33.8 Q87.4,33.4 84.7,31.7"/>
<path d="M91.7,32.9 Q89.4,30.5 86.0,30.1"/>
<path d="M93.0,31.0 Q91.8,27.8 88.4,27.5"/>
<path d="M94.8,31.4 Q93.5,26.9 88.9,25.9"/>
<path d="M95.6,28.9 Q93.2,26.9 92.1,23.9"/>
<path d="M98.4,30.0 Q95.2,27.4 95.3,23.3"/>
<path d="M100.1,27.3 Q98.1,25.1 99.2,22.3"/>
<path d="M102.7,28.5 Q101.7,25.0 103.1,21.8"/>
<path d="M104.2,27.8 Q104.6,24.8 105.5,22.0"/>
<path d="M105.6,27.9 Q106.4,25.4 107.3,23.0"/>
<path d="M107.3,30.9 Q112.1,29.0 112.4,23.9"/>
<path d="M109.8,30.3 Q111.8,28.0 114.1,26.0"/>
<path d="M110.9,31.0 Q113.3,28.9 115.8,27.1"/>
<path d="M112.9,33.4 Q116.2,31.6 119.8,30.4"/>
<path d="M113.0,34.5 Q116.2,32.5 119.9,32.4"/>
<path d="M111.7,36.4 Q116.6,38.7 120.6,35.0"/>
<path d="M171.7,38.4 Q173.7,37.9 175.8,38.6"/>
<path d="M170.4,39.3 Q173.0,41.5 176.1,40.0"/>
<path d="M170.9,42.7 Q172.5,44.0 174.6,44.0"/>
<path d="M168.7,45.5 Q169.8,46.9 171.4,47.3"/>
<path d="M166.5,46.5 Q167.6,48.6 169.9,49.6"/>
<path d="M164.6,49.1 Q165.3,50.4 166.3,51.5"/>
<path d="M161.7,49.1 Q161.9,50.8 163.0,52.2"/>
<path d="M157.6,50.5 Q156.9,52.1 157.9,53.6"/>
<path d="M154.6,49.9 Q153.2,51.6 154.0,53.6"/>
<path d="M151.2,49.7 Q150.0,51.1 149.8,52.9"/>
<path d="M146.8,48.0 Q145.8,49.0 144.8,50.0"/>
<path d="M145.9,46.9 Q144.5,48.3 143.0,49.5"/>
<path d="M143.4,43.7 Q142.1,45.7 139.7,45.5"/>
<path d="M142.4,40.9 Q140.3,41.8 138.1,42.0"/>
<path d="M141.3,38.7 Q139.3,38.0 137.4,38.9"/>
<path d="M143.2,37.1 Q140.5,36.3 137.7,36.9"/>
<path d="M142.1,34.0 Q139.7,35.1 138.1,33.0"/>
<path d="M144.9,31.6 Q142.3,32.0 140.9,29.7"/>
<path d="M146.6,29.9 Q143.6,30.1 142.9,27.2"/>
<path d="M148.7,27.7 Q147.5,25.7 145.8,24.2"/>
<path d="M150.2,25.4 Q149.6,24.6 149.3,23.6"/>
<path d="M153.9,25.8 Q154.5,23.9 153.1,22.4"/>
<path d="M157.2,26.6 Q155.4,23.9 157.4,21.4"/>
<path d="M160.6,26.2 Q163.0,24.7 162.0,22.1"/>
<path d="M164.0,27.2 Q165.9,25.7 166.7,23.4"/>
<path d="M165.2,28.8 Q167.3,27.1 168.9,25.1"/>
<path d="M170.1,30.2 Q171.3,29.1 172.8,28.7"/>
<path d="M168.8,33.5 Q171.4,33.0 173.9,31.9"/>
<path d="M169.9,35.3 Q173.1,36.8 175.6,34.3"/>
<path d="M171.1,37.3 Q173.2,36.4 175.3,37.2"/>
</g>
<g filter="url(#b06)" fill="none" stroke="#702010" opacity="0.0">
<path d="M48,22 L47.6,42" stroke-width="0.8"/>
<path d="M93,43 C95,34 103,29.5 110,30.5 C115,31.5 117,34 117.5,37.5" stroke-width="2.2"/>
<path d="M104,38 C106,40 107,44 106,46" stroke-width="1.2"/>
<path d="M148,31.5 L152.8,37 L148.2,42.5" stroke-width="2.4"/>
<path d="M166,33 L159.5,37 L166,41" stroke-width="2.2"/>
</g>
<g filter="url(#b15)" opacity="0.0" fill="#d8d890">
</g>
<ellipse cx="47.5" cy="42.2" rx="19" ry="4.2" fill="#c84820" opacity="0.75" filter="url(#b15)"/>
<ellipse cx="59.5" cy="42.5" rx="4.5" ry="2.8" fill="#e8b038" opacity="0.7" filter="url(#b12)"/>
<ellipse cx="46" cy="42.8" rx="3.5" ry="2.4" fill="#e09030" opacity="0.6" filter="url(#b12)"/>
<ellipse cx="34.5" cy="42.5" rx="3" ry="2.4" fill="#e08830" opacity="0.55" filter="url(#b12)"/>
<ellipse cx="52" cy="43" rx="2.5" ry="2" fill="#e0a030" opacity="0.5" filter="url(#b12)"/>
<ellipse cx="46.5" cy="33.5" rx="2.2" ry="3.5" fill="#2a2424" opacity="0.6" filter="url(#b10)"/>
<ellipse cx="108" cy="37.8" rx="3.8" ry="3.8" fill="#e8b838" opacity="0.85" filter="url(#b12)"/>
<ellipse cx="90.6" cy="25.1" rx="3" ry="2.5" fill="#c85a28" opacity="0.6" filter="url(#b15)"/>
<ellipse cx="99.3" cy="42.6" rx="3" ry="3" fill="#c86028" opacity="0.6" filter="url(#b15)"/>
<ellipse cx="114.8" cy="45.5" rx="3" ry="2.5" fill="#d07830" opacity="0.7" filter="url(#b15)"/>
<ellipse cx="100.3" cy="35.8" rx="3" ry="2.5" fill="#2a2828" opacity="0.7" filter="url(#b10)"/>
<ellipse cx="166.3" cy="36.8" rx="3.5" ry="3.5" fill="#e8b838" opacity="0.85" filter="url(#b12)"/>
<ellipse cx="175" cy="42.6" rx="3" ry="3" fill="#e8b838" opacity="0.8" filter="url(#b12)"/>
<ellipse cx="167.3" cy="51.4" rx="3" ry="3" fill="#d07830" opacity="0.7" filter="url(#b15)"/>
<ellipse cx="171.1" cy="57.2" rx="3" ry="3" fill="#d04820" opacity="0.85" filter="url(#b12)"/>
<ellipse cx="164" cy="22" rx="3" ry="2.5" fill="#c04820" opacity="0.6" filter="url(#b15)"/>
<ellipse cx="150.8" cy="46.5" rx="3" ry="3" fill="#7a7a7a" opacity="0.8" filter="url(#b10)"/>
<ellipse cx="150" cy="37" rx="2" ry="4" fill="#2a2424" opacity="0.5" filter="url(#b10)"/>
<ellipse cx="160" cy="37" rx="3" ry="2" fill="#2a2424" opacity="0.5" filter="url(#b10)"/>
<ellipse cx="37.4" cy="54.2" rx="2.2" ry="3.5" fill="#e89830" opacity="0.75" filter="url(#b10)"/>
</g>
<text x="-0.5" y="11" font-size="16.5" font-weight="bold">a</text>
<text x="230.5" y="12.0" font-size="16.5" font-weight="bold">b</text>
<text x="102.2" y="12.2" font-size="13.1" font-weight="bold" text-anchor="middle">Water</text>
<rect x="194.2" y="14.3" width="7" height="50.8" fill="url(#hot)" stroke="#333" stroke-width="0.9"/>
<text x="204.3" y="22.6" font-size="11">20</text>
<text x="203.8" y="65.5" font-size="11">0</text>
<text transform="translate(204.2,40.8) rotate(90)" x="0" y="0" font-size="11" text-anchor="middle" dominant-baseline="auto">mM</text>
<text x="102.2" y="80.75" font-size="13.1" font-weight="bold" text-anchor="middle">Glucose</text>
<rect x="194.2" y="82.85" width="7" height="50.8" fill="url(#hot)" stroke="#333" stroke-width="0.9"/>
<text x="204.3" y="91.14999999999999" font-size="11">4.7</text>
<text x="203.8" y="134.05" font-size="11">0</text>
<text transform="translate(204.2,109.35) rotate(90)" x="0" y="0" font-size="11" text-anchor="middle" dominant-baseline="auto">mM</text>
<text x="102.2" y="149.29999999999998" font-size="13.1" font-weight="bold" text-anchor="middle">Glx</text>
<rect x="194.2" y="151.4" width="7" height="50.8" fill="url(#hot)" stroke="#333" stroke-width="0.9"/>
<text x="204.3" y="159.7" font-size="11">8.9</text>
<text x="203.8" y="202.6" font-size="11">0</text>
<text transform="translate(204.2,177.9) rotate(90)" x="0" y="0" font-size="11" text-anchor="middle" dominant-baseline="auto">mM</text>
<text x="102.2" y="217.84999999999997" font-size="13.1" font-weight="bold" text-anchor="middle">Lactate</text>
<rect x="194.2" y="219.95" width="7" height="50.8" fill="url(#hot)" stroke="#333" stroke-width="0.9"/>
<text x="204.3" y="228.24999999999997" font-size="11">6.3</text>
<text x="203.8" y="271.15" font-size="11">0</text>
<text transform="translate(204.2,246.45) rotate(90)" x="0" y="0" font-size="11" text-anchor="middle" dominant-baseline="auto">mM</text>
<line x1="327.8" y1="0" x2="327.8" y2="98.05" stroke="#000" stroke-width="1.5"/>
<line x1="327.05" y1="97.3" x2="451.0" y2="97.3" stroke="#000" stroke-width="1.5"/>
<line x1="358.9" y1="97.3" x2="358.9" y2="100.89999999999999" stroke="#000" stroke-width="1.3"/>
<text transform="translate(358.9,112.4) scale(1.0,1.14)" font-size="11.6" text-anchor="middle">10</text>
<line x1="401.4" y1="97.3" x2="401.4" y2="100.89999999999999" stroke="#000" stroke-width="1.3"/>
<text transform="translate(401.4,112.4) scale(1.0,1.14)" font-size="11.6" text-anchor="middle">15</text>
<line x1="444.3" y1="97.3" x2="444.3" y2="100.89999999999999" stroke="#000" stroke-width="1.3"/>
<text transform="translate(444.3,112.4) scale(1.0,1.14)" font-size="11.6" text-anchor="middle">20</text>
<text transform="translate(388.5,127.7) scale(1.0,1.05)" font-size="13.3" text-anchor="middle">Water (mM)</text>
<text transform="translate(438.8,12.0) scale(1.0,1.1)" font-size="9.15" text-anchor="middle">P &lt; .001</text>
<line x1="324.5" y1="7.2" x2="327.8" y2="7.2" stroke="#000" stroke-width="1.3"/>
<text transform="translate(321.2,11.9) scale(1.0,1.11)" font-size="11.8" text-anchor="end">Thalamus</text>
<line x1="355.1" y1="7.2" x2="378.9" y2="7.2" stroke="#333333" stroke-width="1.3"/>
<rect x="364.8" y="3.4000000000000004" width="5.8" height="7.6" fill="#8DD3C7" stroke="#333333" stroke-width="1.5"/>
<line x1="366.9" y1="3.4000000000000004" x2="366.9" y2="11.0" stroke="#333333" stroke-width="2.2"/>
<circle cx="383.2" cy="7.2" r="1.7" fill="#333333"/>
<line x1="324.5" y1="17.67" x2="327.8" y2="17.67" stroke="#000" stroke-width="1.3"/>
<text transform="translate(321.2,22.37) scale(1.0,1.11)" font-size="11.8" text-anchor="end">Brain stem</text>
<line x1="352.1" y1="17.67" x2="397.1" y2="17.67" stroke="#333333" stroke-width="1.3"/>
<rect x="358.1" y="13.870000000000001" width="22.8" height="7.6" fill="#FFFFB3" stroke="#333333" stroke-width="1.5"/>
<line x1="369.3" y1="13.870000000000001" x2="369.3" y2="21.470000000000002" stroke="#333333" stroke-width="2.2"/>
<line x1="324.5" y1="28.14" x2="327.8" y2="28.14" stroke="#000" stroke-width="1.3"/>
<text transform="translate(321.2,32.84) scale(1.0,1.11)" font-size="11.8" text-anchor="end">Parietal lobe</text>
<line x1="354.2" y1="28.14" x2="376.5" y2="28.14" stroke="#333333" stroke-width="1.3"/>
<rect x="361.7" y="24.34" width="11.5" height="7.6" fill="#BEBADA" stroke="#333333" stroke-width="1.5"/>
<line x1="370.4" y1="24.34" x2="370.4" y2="31.94" stroke="#333333" stroke-width="2.2"/>
<line x1="324.5" y1="38.61" x2="327.8" y2="38.61" stroke="#000" stroke-width="1.3"/>
<text transform="translate(321.2,43.31) scale(1.0,1.11)" font-size="11.8" text-anchor="end">Frontal lobe</text>
<line x1="366.3" y1="38.61" x2="383.4" y2="38.61" stroke="#333333" stroke-width="1.3"/>
<rect x="370.8" y="34.81" width="9.2" height="7.6" fill="#FB8072" stroke="#333333" stroke-width="1.5"/>
<line x1="372.8" y1="34.81" x2="372.8" y2="42.41" stroke="#333333" stroke-width="2.2"/>
<circle cx="353.6" cy="38.61" r="1.7" fill="#333333"/>
<circle cx="397.9" cy="38.61" r="1.7" fill="#333333"/>
<circle cx="402.3" cy="38.61" r="1.7" fill="#333333"/>
<line x1="324.5" y1="49.08" x2="327.8" y2="49.08" stroke="#000" stroke-width="1.3"/>
<text transform="translate(321.2,53.78) scale(1.0,1.11)" font-size="11.8" text-anchor="end">Cerebellum</text>
<line x1="354.2" y1="49.08" x2="385.3" y2="49.08" stroke="#333333" stroke-width="1.3"/>
<rect x="369.8" y="45.28" width="11.4" height="7.6" fill="#80B1D3" stroke="#333333" stroke-width="1.5"/>
<line x1="379.2" y1="45.28" x2="379.2" y2="52.879999999999995" stroke="#333333" stroke-width="2.2"/>
<circle cx="340.3" cy="49.08" r="1.7" fill="#333333"/>
<line x1="324.5" y1="59.55" x2="327.8" y2="59.55" stroke="#000" stroke-width="1.3"/>
<text transform="translate(321.2,64.25) scale(1.0,1.11)" font-size="11.8" text-anchor="end">Occipital lobe</text>
<line x1="360.0" y1="59.55" x2="391.0" y2="59.55" stroke="#333333" stroke-width="1.3"/>
<rect x="374.6" y="55.75" width="10.7" height="7.6" fill="#FDB462" stroke="#333333" stroke-width="1.5"/>
<line x1="382.7" y1="55.75" x2="382.7" y2="63.349999999999994" stroke="#333333" stroke-width="2.2"/>
<line x1="324.5" y1="70.02" x2="327.8" y2="70.02" stroke="#000" stroke-width="1.3"/>
<text transform="translate(321.2,74.72) scale(1.0,1.11)" font-size="11.8" text-anchor="end">Putamen</text>
<line x1="371.1" y1="70.02" x2="392.6" y2="70.02" stroke="#333333" stroke-width="1.3"/>
<rect x="377.4" y="66.22" width="8.9" height="7.6" fill="#B3DE69" stroke="#333333" stroke-width="1.5"/>
<line x1="384.3" y1="66.22" x2="384.3" y2="73.82" stroke="#333333" stroke-width="2.2"/>
<circle cx="353.0" cy="70.02" r="1.7" fill="#333333"/>
<circle cx="403.5" cy="70.02" r="1.7" fill="#333333"/>
<line x1="324.5" y1="80.49" x2="327.8" y2="80.49" stroke="#000" stroke-width="1.3"/>
<text transform="translate(321.2,85.19) scale(1.0,1.11)" font-size="11.8" text-anchor="end">Caudate nucleus</text>
<line x1="345.0" y1="80.49" x2="393.5" y2="80.49" stroke="#333333" stroke-width="1.3"/>
<rect x="366.8" y="76.69" width="22.5" height="7.6" fill="#FCCDE5" stroke="#333333" stroke-width="1.5"/>
<line x1="384.6" y1="76.69" x2="384.6" y2="84.28999999999999" stroke="#333333" stroke-width="2.2"/>
<line x1="324.5" y1="90.96" x2="327.8" y2="90.96" stroke="#000" stroke-width="1.3"/>
<text transform="translate(321.2,95.66) scale(1.0,1.11)" font-size="11.8" text-anchor="end">Temporal lobe</text>
<line x1="360.1" y1="90.96" x2="408.9" y2="90.96" stroke="#333333" stroke-width="1.3"/>
<rect x="382.5" y="87.16" width="15.4" height="7.6" fill="#D9D9D9" stroke="#333333" stroke-width="1.5"/>
<line x1="392.6" y1="87.16" x2="392.6" y2="94.75999999999999" stroke="#333333" stroke-width="2.2"/>
<circle cx="429.4" cy="90.96" r="1.7" fill="#333333"/>
<line x1="558.3" y1="0" x2="558.3" y2="98.05" stroke="#000" stroke-width="1.5"/>
<line x1="557.55" y1="97.3" x2="681.0" y2="97.3" stroke="#000" stroke-width="1.5"/>
<line x1="573.9" y1="97.3" x2="573.9" y2="100.89999999999999" stroke="#000" stroke-width="1.3"/>
<text transform="translate(573.9,112.4) scale(1.0,1.14)" font-size="11.6" text-anchor="middle">2</text>
<line x1="611.0" y1="97.3" x2="611.0" y2="100.89999999999999" stroke="#000" stroke-width="1.3"/>
<text transform="translate(611.0,112.4) scale(1.0,1.14)" font-size="11.6" text-anchor="middle">3</text>
<line x1="648.5" y1="97.3" x2="648.5" y2="100.89999999999999" stroke="#000" stroke-width="1.3"/>
<text transform="translate(648.5,112.4) scale(1.0,1.14)" font-size="11.6" text-anchor="middle">4</text>
<text transform="translate(619.4,127.7) scale(1.0,1.05)" font-size="13.3" text-anchor="middle">Glucose (mM)</text>
<text transform="translate(669.4,12.0) scale(1.0,1.1)" font-size="9.15" text-anchor="middle">P &lt; .001</text>
<line x1="555.0" y1="7.2" x2="558.3" y2="7.2" stroke="#000" stroke-width="1.3"/>
<text transform="translate(551.7,11.9) scale(1.0,1.11)" font-size="11.8" text-anchor="end">Putamen</text>
<line x1="569.7" y1="7.2" x2="639.4" y2="7.2" stroke="#333333" stroke-width="1.3"/>
<rect x="579.8" y="3.4000000000000004" width="25.6" height="7.6" fill="#B3DE69" stroke="#333333" stroke-width="1.5"/>
<line x1="586.5" y1="3.4000000000000004" x2="586.5" y2="11.0" stroke="#333333" stroke-width="2.2"/>
<line x1="555.0" y1="17.67" x2="558.3" y2="17.67" stroke="#000" stroke-width="1.3"/>
<text transform="translate(551.7,22.37) scale(1.0,1.11)" font-size="11.8" text-anchor="end">Caudate nucleus</text>
<line x1="574.0" y1="17.67" x2="631.5" y2="17.67" stroke="#333333" stroke-width="1.3"/>
<rect x="583.1" y="13.870000000000001" width="25.3" height="7.6" fill="#FCCDE5" stroke="#333333" stroke-width="1.5"/>
<line x1="588.9" y1="13.870000000000001" x2="588.9" y2="21.470000000000002" stroke="#333333" stroke-width="2.2"/>
<line x1="555.0" y1="28.14" x2="558.3" y2="28.14" stroke="#000" stroke-width="1.3"/>
<text transform="translate(551.7,32.84) scale(1.0,1.11)" font-size="11.8" text-anchor="end">Thalamus</text>
<line x1="570.1" y1="28.14" x2="617.8" y2="28.14" stroke="#333333" stroke-width="1.3"/>
<rect x="586.0" y="24.34" width="15.5" height="7.6" fill="#8DD3C7" stroke="#333333" stroke-width="1.5"/>
<line x1="591.1" y1="24.34" x2="591.1" y2="31.94" stroke="#333333" stroke-width="2.2"/>
<circle cx="637.4" cy="28.14" r="1.7" fill="#333333"/>
<line x1="555.0" y1="38.61" x2="558.3" y2="38.61" stroke="#000" stroke-width="1.3"/>
<text transform="translate(551.7,43.31) scale(1.0,1.11)" font-size="11.8" text-anchor="end">Parietal lobe</text>
<line x1="565.4" y1="38.61" x2="638.0" y2="38.61" stroke="#333333" stroke-width="1.3"/>
<rect x="576.5" y="34.81" width="27.6" height="7.6" fill="#BEBADA" stroke="#333333" stroke-width="1.5"/>
<line x1="592.4" y1="34.81" x2="592.4" y2="42.41" stroke="#333333" stroke-width="2.2"/>
<line x1="555.0" y1="49.08" x2="558.3" y2="49.08" stroke="#000" stroke-width="1.3"/>
<text transform="translate(551.7,53.78) scale(1.0,1.11)" font-size="11.8" text-anchor="end">Frontal lobe</text>
<line x1="570.5" y1="49.08" x2="624.3" y2="49.08" stroke="#333333" stroke-width="1.3"/>
<rect x="585.1" y="45.28" width="17.2" height="7.6" fill="#FB8072" stroke="#333333" stroke-width="1.5"/>
<line x1="595.1" y1="45.28" x2="595.1" y2="52.879999999999995" stroke="#333333" stroke-width="2.2"/>
<circle cx="658.1" cy="49.08" r="1.7" fill="#333333"/>
<line x1="555.0" y1="59.55" x2="558.3" y2="59.55" stroke="#000" stroke-width="1.3"/>
<text transform="translate(551.7,64.25) scale(1.0,1.11)" font-size="11.8" text-anchor="end">Brain stem</text>
<line x1="583.6" y1="59.55" x2="664.1" y2="59.55" stroke="#333333" stroke-width="1.3"/>
<rect x="591.1" y="55.75" width="47.0" height="7.6" fill="#FFFFB3" stroke="#333333" stroke-width="1.5"/>
<line x1="600.6" y1="55.75" x2="600.6" y2="63.349999999999994" stroke="#333333" stroke-width="2.2"/>
<line x1="555.0" y1="70.02" x2="558.3" y2="70.02" stroke="#000" stroke-width="1.3"/>
<text transform="translate(551.7,74.72) scale(1.0,1.11)" font-size="11.8" text-anchor="end">Occipital lobe</text>
<line x1="564.1" y1="70.02" x2="649.0" y2="70.02" stroke="#333333" stroke-width="1.3"/>
<rect x="584.7" y="66.22" width="31.3" height="7.6" fill="#FDB462" stroke="#333333" stroke-width="1.5"/>
<line x1="607.9" y1="66.22" x2="607.9" y2="73.82" stroke="#333333" stroke-width="2.2"/>
<line x1="555.0" y1="80.49" x2="558.3" y2="80.49" stroke="#000" stroke-width="1.3"/>
<text transform="translate(551.7,85.19) scale(1.0,1.11)" font-size="11.8" text-anchor="end">Cerebellum</text>
<line x1="581.5" y1="80.49" x2="643.5" y2="80.49" stroke="#333333" stroke-width="1.3"/>
<rect x="602.0" y="76.69" width="25.1" height="7.6" fill="#80B1D3" stroke="#333333" stroke-width="1.5"/>
<line x1="611.9" y1="76.69" x2="611.9" y2="84.28999999999999" stroke="#333333" stroke-width="2.2"/>
<line x1="555.0" y1="90.96" x2="558.3" y2="90.96" stroke="#000" stroke-width="1.3"/>
<text transform="translate(551.7,95.66) scale(1.0,1.11)" font-size="11.8" text-anchor="end">Temporal lobe</text>
<line x1="591.0" y1="90.96" x2="635.3" y2="90.96" stroke="#333333" stroke-width="1.3"/>
<rect x="603.9" y="87.16" width="25.1" height="7.6" fill="#D9D9D9" stroke="#333333" stroke-width="1.5"/>
<line x1="611.9" y1="87.16" x2="611.9" y2="94.75999999999999" stroke="#333333" stroke-width="2.2"/>
<circle cx="669.0" cy="90.96" r="1.7" fill="#333333"/>
<circle cx="674.5" cy="90.96" r="1.7" fill="#333333"/>
<line x1="327.7" y1="142.7" x2="327.7" y2="240.65" stroke="#000" stroke-width="1.5"/>
<line x1="326.95" y1="239.9" x2="450.5" y2="239.9" stroke="#000" stroke-width="1.5"/>
<line x1="339.4" y1="239.9" x2="339.4" y2="243.5" stroke="#000" stroke-width="1.3"/>
<text transform="translate(339.4,255.0) scale(1.0,1.14)" font-size="11.6" text-anchor="middle">2</text>
<line x1="374.2" y1="239.9" x2="374.2" y2="243.5" stroke="#000" stroke-width="1.3"/>
<text transform="translate(374.2,255.0) scale(1.0,1.14)" font-size="11.6" text-anchor="middle">4</text>
<line x1="408.5" y1="239.9" x2="408.5" y2="243.5" stroke="#000" stroke-width="1.3"/>
<text transform="translate(408.5,255.0) scale(1.0,1.14)" font-size="11.6" text-anchor="middle">6</text>
<line x1="443.1" y1="239.9" x2="443.1" y2="243.5" stroke="#000" stroke-width="1.3"/>
<text transform="translate(443.1,255.0) scale(1.0,1.14)" font-size="11.6" text-anchor="middle">8</text>
<text transform="translate(388.5,270.3) scale(1.0,1.05)" font-size="13.3" text-anchor="middle">Glx (mM)</text>
<text transform="translate(438.6,154.5) scale(1.0,1.1)" font-size="9.15" text-anchor="middle">P &lt; .001</text>
<line x1="324.4" y1="149.8" x2="327.7" y2="149.8" stroke="#000" stroke-width="1.3"/>
<text transform="translate(321.1,154.5) scale(1.0,1.11)" font-size="11.8" text-anchor="end">Brain stem</text>
<line x1="333.2" y1="149.8" x2="379.7" y2="149.8" stroke="#333333" stroke-width="1.3"/>
<rect x="352.0" y="146.0" width="14.5" height="7.6" fill="#FFFFB3" stroke="#333333" stroke-width="1.5"/>
<line x1="356.0" y1="146.0" x2="356.0" y2="153.60000000000002" stroke="#333333" stroke-width="2.2"/>
<line x1="324.4" y1="160.27" x2="327.7" y2="160.27" stroke="#000" stroke-width="1.3"/>
<text transform="translate(321.1,164.97) scale(1.0,1.11)" font-size="11.8" text-anchor="end">Thalamus</text>
<line x1="352.0" y1="160.27" x2="382.5" y2="160.27" stroke="#333333" stroke-width="1.3"/>
<rect x="364.7" y="156.47" width="11.8" height="7.6" fill="#8DD3C7" stroke="#333333" stroke-width="1.5"/>
<line x1="369.7" y1="156.47" x2="369.7" y2="164.07000000000002" stroke="#333333" stroke-width="2.2"/>
<line x1="324.4" y1="170.74" x2="327.7" y2="170.74" stroke="#000" stroke-width="1.3"/>
<text transform="translate(321.1,175.44) scale(1.0,1.11)" font-size="11.8" text-anchor="end">Cerebellum</text>
<line x1="356.4" y1="170.74" x2="383.8" y2="170.74" stroke="#333333" stroke-width="1.3"/>
<rect x="362.5" y="166.94" width="13.6" height="7.6" fill="#80B1D3" stroke="#333333" stroke-width="1.5"/>
<line x1="374.3" y1="166.94" x2="374.3" y2="174.54000000000002" stroke="#333333" stroke-width="2.2"/>
<circle cx="340.5" cy="170.74" r="1.7" fill="#333333"/>
<line x1="324.4" y1="181.21" x2="327.7" y2="181.21" stroke="#000" stroke-width="1.3"/>
<text transform="translate(321.1,185.91) scale(1.0,1.11)" font-size="11.8" text-anchor="end">Parietal lobe</text>
<line x1="361.0" y1="181.21" x2="399.5" y2="181.21" stroke="#333333" stroke-width="1.3"/>
<rect x="367.8" y="177.41" width="14.2" height="7.6" fill="#BEBADA" stroke="#333333" stroke-width="1.5"/>
<line x1="375.2" y1="177.41" x2="375.2" y2="185.01000000000002" stroke="#333333" stroke-width="2.2"/>
<circle cx="343.8" cy="181.21" r="1.7" fill="#333333"/>
<line x1="324.4" y1="191.68" x2="327.7" y2="191.68" stroke="#000" stroke-width="1.3"/>
<text transform="translate(321.1,196.38) scale(1.0,1.11)" font-size="11.8" text-anchor="end">Frontal lobe</text>
<line x1="373.4" y1="191.68" x2="400.4" y2="191.68" stroke="#333333" stroke-width="1.3"/>
<rect x="378.8" y="187.88" width="11.0" height="7.6" fill="#FB8072" stroke="#333333" stroke-width="1.5"/>
<line x1="381.9" y1="187.88" x2="381.9" y2="195.48000000000002" stroke="#333333" stroke-width="2.2"/>
<circle cx="354.7" cy="191.68" r="1.7" fill="#333333"/>
<circle cx="410.2" cy="191.68" r="1.7" fill="#333333"/>
<line x1="324.4" y1="202.15" x2="327.7" y2="202.15" stroke="#000" stroke-width="1.3"/>
<text transform="translate(321.1,206.85) scale(1.0,1.11)" font-size="11.8" text-anchor="end">Putamen</text>
<line x1="357.8" y1="202.15" x2="399.8" y2="202.15" stroke="#333333" stroke-width="1.3"/>
<rect x="378.8" y="198.35" width="15.0" height="7.6" fill="#B3DE69" stroke="#333333" stroke-width="1.5"/>
<line x1="384.3" y1="198.35" x2="384.3" y2="205.95000000000002" stroke="#333333" stroke-width="2.2"/>
<line x1="324.4" y1="212.62" x2="327.7" y2="212.62" stroke="#000" stroke-width="1.3"/>
<text transform="translate(321.1,217.32) scale(1.0,1.11)" font-size="11.8" text-anchor="end">Caudate nucleus</text>
<line x1="355.1" y1="212.62" x2="403.1" y2="212.62" stroke="#333333" stroke-width="1.3"/>
<rect x="374.8" y="208.82" width="23.1" height="7.6" fill="#FCCDE5" stroke="#333333" stroke-width="1.5"/>
<line x1="385.6" y1="208.82" x2="385.6" y2="216.42000000000002" stroke="#333333" stroke-width="2.2"/>
<line x1="324.4" y1="223.09" x2="327.7" y2="223.09" stroke="#000" stroke-width="1.3"/>
<text transform="translate(321.1,227.79) scale(1.0,1.11)" font-size="11.8" text-anchor="end">Occipital lobe</text>
<line x1="338.7" y1="223.09" x2="410.8" y2="223.09" stroke="#333333" stroke-width="1.3"/>
<rect x="371.1" y="219.29" width="22.7" height="7.6" fill="#FDB462" stroke="#333333" stroke-width="1.5"/>
<line x1="387.0" y1="219.29" x2="387.0" y2="226.89000000000001" stroke="#333333" stroke-width="2.2"/>
<line x1="324.4" y1="233.56" x2="327.7" y2="233.56" stroke="#000" stroke-width="1.3"/>
<text transform="translate(321.1,238.26) scale(1.0,1.11)" font-size="11.8" text-anchor="end">Temporal lobe</text>
<line x1="380.1" y1="233.56" x2="413.1" y2="233.56" stroke="#333333" stroke-width="1.3"/>
<rect x="389.9" y="229.76" width="14.9" height="7.6" fill="#D9D9D9" stroke="#333333" stroke-width="1.5"/>
<line x1="400.4" y1="229.76" x2="400.4" y2="237.36" stroke="#333333" stroke-width="2.2"/>
<circle cx="362.4" cy="233.56" r="1.7" fill="#333333"/>
<circle cx="444.2" cy="233.56" r="1.7" fill="#333333"/>
<line x1="558.2" y1="142.7" x2="558.2" y2="240.65" stroke="#000" stroke-width="1.5"/>
<line x1="557.45" y1="239.9" x2="681.0" y2="239.9" stroke="#000" stroke-width="1.5"/>
<line x1="583.9" y1="239.9" x2="583.9" y2="243.5" stroke="#000" stroke-width="1.3"/>
<text transform="translate(583.9,255.0) scale(1.0,1.14)" font-size="11.6" text-anchor="middle">1</text>
<line x1="617.0" y1="239.9" x2="617.0" y2="243.5" stroke="#000" stroke-width="1.3"/>
<text transform="translate(617.0,255.0) scale(1.0,1.14)" font-size="11.6" text-anchor="middle">2</text>
<line x1="650.3" y1="239.9" x2="650.3" y2="243.5" stroke="#000" stroke-width="1.3"/>
<text transform="translate(650.3,255.0) scale(1.0,1.14)" font-size="11.6" text-anchor="middle">3</text>
<text transform="translate(619.2,270.3) scale(1.0,1.05)" font-size="13.3" text-anchor="middle">Lactate (mM)</text>
<text transform="translate(669.3,154.5) scale(1.0,1.1)" font-size="9.15" text-anchor="middle">P &lt; .001</text>
<line x1="554.9000000000001" y1="149.8" x2="558.2" y2="149.8" stroke="#000" stroke-width="1.3"/>
<text transform="translate(551.6,154.5) scale(1.0,1.11)" font-size="11.8" text-anchor="end">Thalamus</text>
<line x1="564.1" y1="149.8" x2="588.2" y2="149.8" stroke="#333333" stroke-width="1.3"/>
<rect x="576.8" y="146.0" width="10.3" height="7.6" fill="#8DD3C7" stroke="#333333" stroke-width="1.5"/>
<line x1="581.6" y1="146.0" x2="581.6" y2="153.60000000000002" stroke="#333333" stroke-width="2.2"/>
<circle cx="604.0" cy="149.8" r="1.7" fill="#333333"/>
<circle cx="612.9" cy="149.8" r="1.7" fill="#333333"/>
<line x1="554.9000000000001" y1="160.27" x2="558.2" y2="160.27" stroke="#000" stroke-width="1.3"/>
<text transform="translate(551.6,164.97) scale(1.0,1.11)" font-size="11.8" text-anchor="end">Parietal lobe</text>
<line x1="582.5" y1="160.27" x2="600.5" y2="160.27" stroke="#333333" stroke-width="1.3"/>
<rect x="590.6" y="156.47" width="6.6" height="7.6" fill="#BEBADA" stroke="#333333" stroke-width="1.5"/>
<line x1="593.9" y1="156.47" x2="593.9" y2="164.07000000000002" stroke="#333333" stroke-width="2.2"/>
<circle cx="574.5" cy="160.27" r="1.7" fill="#333333"/>
<circle cx="612.3" cy="160.27" r="1.7" fill="#333333"/>
<circle cx="622.9" cy="160.27" r="1.7" fill="#333333"/>
<line x1="554.9000000000001" y1="170.74" x2="558.2" y2="170.74" stroke="#000" stroke-width="1.3"/>
<text transform="translate(551.6,175.44) scale(1.0,1.11)" font-size="11.8" text-anchor="end">Putamen</text>
<line x1="583.1" y1="170.74" x2="630.5" y2="170.74" stroke="#333333" stroke-width="1.3"/>
<rect x="588.7" y="166.94" width="17.4" height="7.6" fill="#B3DE69" stroke="#333333" stroke-width="1.5"/>
<line x1="596.4" y1="166.94" x2="596.4" y2="174.54000000000002" stroke="#333333" stroke-width="2.2"/>
<line x1="554.9000000000001" y1="181.21" x2="558.2" y2="181.21" stroke="#000" stroke-width="1.3"/>
<text transform="translate(551.6,185.91) scale(1.0,1.11)" font-size="11.8" text-anchor="end">Occipital lobe</text>
<line x1="593.9" y1="181.21" x2="618.0" y2="181.21" stroke="#333333" stroke-width="1.3"/>
<rect x="596.9" y="177.41" width="12.2" height="7.6" fill="#FDB462" stroke="#333333" stroke-width="1.5"/>
<line x1="600.9" y1="177.41" x2="600.9" y2="185.01000000000002" stroke="#333333" stroke-width="2.2"/>
<circle cx="568.3" cy="181.21" r="1.7" fill="#333333"/>
<circle cx="633.6" cy="181.21" r="1.7" fill="#333333"/>
<circle cx="635.6" cy="181.21" r="1.7" fill="#333333"/>
<line x1="554.9000000000001" y1="191.68" x2="558.2" y2="191.68" stroke="#000" stroke-width="1.3"/>
<text transform="translate(551.6,196.38) scale(1.0,1.11)" font-size="11.8" text-anchor="end">Brain stem</text>
<line x1="583.1" y1="191.68" x2="620.1" y2="191.68" stroke="#333333" stroke-width="1.3"/>
<rect x="597.6" y="187.88" width="12.3" height="7.6" fill="#FFFFB3" stroke="#333333" stroke-width="1.5"/>
<line x1="603.4" y1="187.88" x2="603.4" y2="195.48000000000002" stroke="#333333" stroke-width="2.2"/>
<line x1="554.9000000000001" y1="202.15" x2="558.2" y2="202.15" stroke="#000" stroke-width="1.3"/>
<text transform="translate(551.6,206.85) scale(1.0,1.11)" font-size="11.8" text-anchor="end">Caudate nucleus</text>
<line x1="571.7" y1="202.15" x2="629.0" y2="202.15" stroke="#333333" stroke-width="1.3"/>
<rect x="585.9" y="198.35" width="30.3" height="7.6" fill="#FCCDE5" stroke="#333333" stroke-width="1.5"/>
<line x1="607.2" y1="198.35" x2="607.2" y2="205.95000000000002" stroke="#333333" stroke-width="2.2"/>
<line x1="554.9000000000001" y1="212.62" x2="558.2" y2="212.62" stroke="#000" stroke-width="1.3"/>
<text transform="translate(551.6,217.32) scale(1.0,1.11)" font-size="11.8" text-anchor="end">Frontal lobe</text>
<line x1="603.4" y1="212.62" x2="622.4" y2="212.62" stroke="#333333" stroke-width="1.3"/>
<rect x="608.1" y="208.82" width="7.5" height="7.6" fill="#FB8072" stroke="#333333" stroke-width="1.5"/>
<line x1="610.4" y1="208.82" x2="610.4" y2="216.42000000000002" stroke="#333333" stroke-width="2.2"/>
<circle cx="583.8" cy="212.62" r="1.7" fill="#333333"/>
<line x1="554.9000000000001" y1="223.09" x2="558.2" y2="223.09" stroke="#000" stroke-width="1.3"/>
<text transform="translate(551.6,227.79) scale(1.0,1.11)" font-size="11.8" text-anchor="end">Cerebellum</text>
<line x1="597.1" y1="223.09" x2="628.6" y2="223.09" stroke="#333333" stroke-width="1.3"/>
<rect x="610.0" y="219.29" width="12.2" height="7.6" fill="#80B1D3" stroke="#333333" stroke-width="1.5"/>
<line x1="618.6" y1="219.29" x2="618.6" y2="226.89000000000001" stroke="#333333" stroke-width="2.2"/>
<circle cx="576.3" cy="223.09" r="1.7" fill="#333333"/>
<circle cx="646.7" cy="223.09" r="1.7" fill="#333333"/>
<line x1="554.9000000000001" y1="233.56" x2="558.2" y2="233.56" stroke="#000" stroke-width="1.3"/>
<text transform="translate(551.6,238.26) scale(1.0,1.11)" font-size="11.8" text-anchor="end">Temporal lobe</text>
<line x1="596.4" y1="233.56" x2="674.9" y2="233.56" stroke="#333333" stroke-width="1.3"/>
<rect x="621.9" y="229.76" width="24.1" height="7.6" fill="#D9D9D9" stroke="#333333" stroke-width="1.5"/>
<line x1="635.1" y1="229.76" x2="635.1" y2="237.36" stroke="#333333" stroke-width="2.2"/>
</svg>
</body></html>
